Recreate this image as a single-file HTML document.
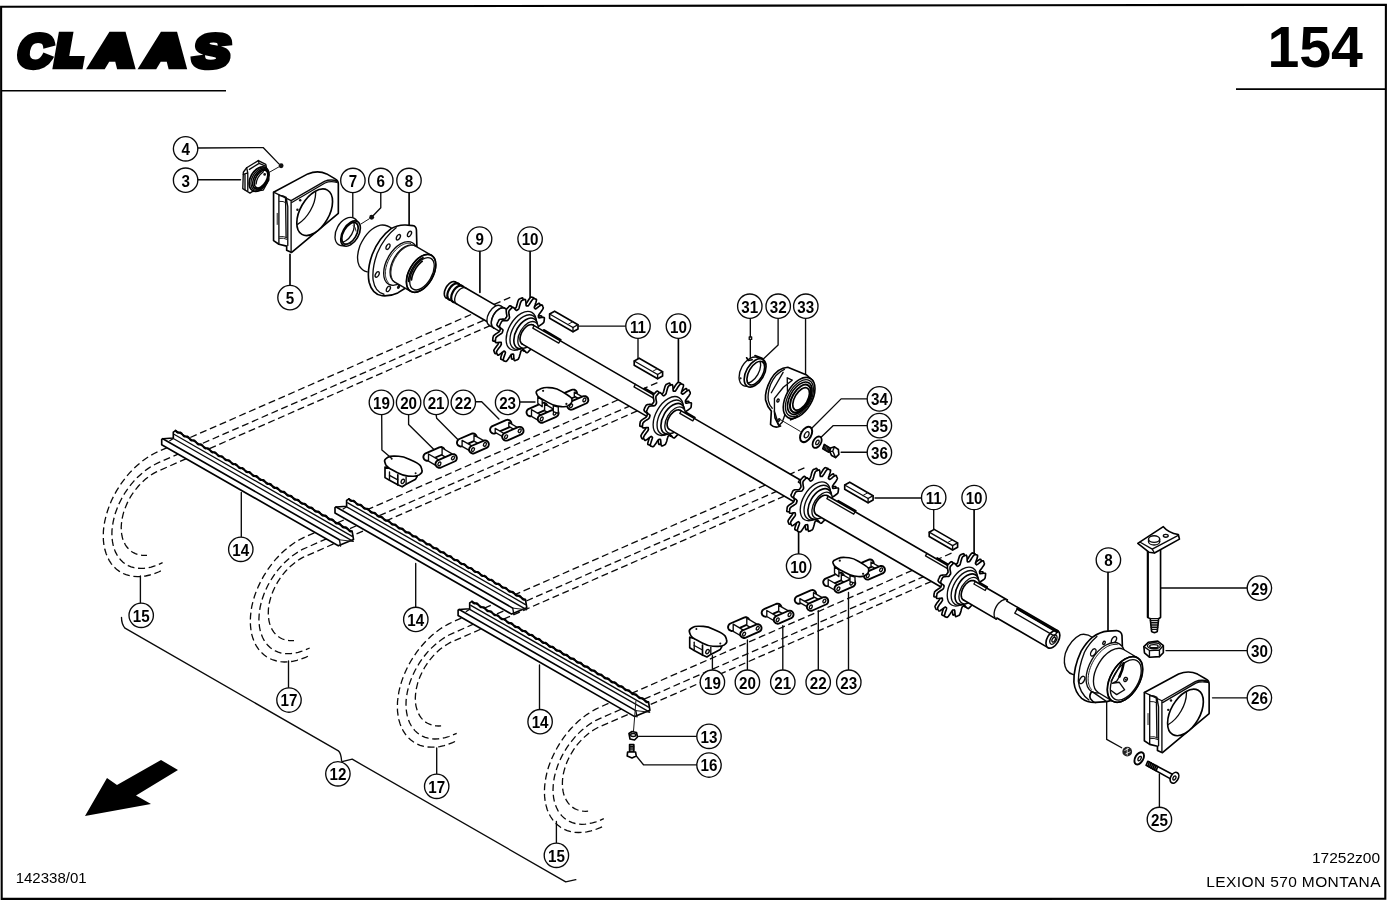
<!DOCTYPE html>
<html lang="en"><head><meta charset="utf-8"><title>CLAAS 154 - LEXION 570 MONTANA</title>
<style>
html,body{margin:0;padding:0;background:#fff;}
body{width:1388px;height:900px;overflow:hidden;position:relative;font-family:"Liberation Sans",sans-serif;}
svg{position:absolute;left:0;top:0;will-change:transform;}
text{font-family:"Liberation Sans",sans-serif;fill:#000;}
.lc{fill:#fff;stroke:#0a0a0a;stroke-width:1.35;}
.lt{font-size:15.2px;font-weight:bold;text-anchor:middle;}
.l,.t,.k,.w,.wk,.d,.g{vector-effect:non-scaling-stroke;}
.l{fill:none;stroke:#0a0a0a;stroke-width:1.35;stroke-linecap:round;stroke-linejoin:round;}
.t{fill:none;stroke:#1a1a1a;stroke-width:1.0;stroke-linecap:round;stroke-linejoin:round;}
.k{fill:none;stroke:#000;stroke-width:1.65;stroke-linecap:round;stroke-linejoin:round;}
.w{fill:#fff;stroke:#0a0a0a;stroke-width:1.35;stroke-linecap:round;stroke-linejoin:round;}
.wk{fill:#fff;stroke:#000;stroke-width:1.65;stroke-linecap:round;stroke-linejoin:round;}
.b{fill:#111;stroke:none;}
.d{fill:none;stroke:#0a0a0a;stroke-width:1.3;stroke-dasharray:7 3.7;}
.logo{font-weight:bold;font-size:42px;stroke:#000;stroke-width:8.5px;stroke-linejoin:miter;stroke-miterlimit:2;}
.pg{font-weight:bold;font-size:57.3px;text-anchor:end;}
.ft{font-size:15.5px;}
</style></head>
<body>
<svg width="1388" height="900" viewBox="0 0 1388 900">
<rect x="0" y="0" width="1388" height="900" fill="#fff"/>
<!-- frame -->
<path d="M1.1,6.8 L1385.9,4.7 L1385.3,898.8 L1.7,898.9 Z" fill="none" stroke="#000" stroke-width="2.1"/>
<path d="M2,90.8 H226" stroke="#000" stroke-width="1.6" fill="none"/>
<path d="M1236,89.2 H1386" stroke="#000" stroke-width="1.7" fill="none"/>
<!-- logo -->
<text class="logo" transform="translate(0,65.35) skewX(-10)"><tspan x="15.7" y="1.45" textLength="34.32" lengthAdjust="spacingAndGlyphs" style="font-size:46px;stroke-width:5.6px">C</tspan><tspan x="54.6" y="0" textLength="25.83" lengthAdjust="spacingAndGlyphs" style="font-size:42px;stroke-width:8.5px">L</tspan><tspan x="93.0" y="0" textLength="37.34" lengthAdjust="spacingAndGlyphs" style="font-size:42px;stroke-width:8.5px">A</tspan><tspan x="144.6" y="0" textLength="37.34" lengthAdjust="spacingAndGlyphs" style="font-size:42px;stroke-width:8.5px">A</tspan><tspan x="191.3" y="1.45" textLength="36.66" lengthAdjust="spacingAndGlyphs" style="font-size:46px;stroke-width:5.6px">S</tspan></text>
<text class="pg" x="1363" y="67.4">154</text>
<text class="ft" x="15.7" y="883.2" style="font-size:15px">142338/01</text>
<text class="ft" x="1380" y="862.6" text-anchor="end">17252z00</text>
<text class="ft" x="1380.9" y="887.2" text-anchor="end" style="letter-spacing:.38px">LEXION 570 MONTANA</text>
<!-- arrow -->
<path d="M85,816 L107,778 L117,785 L161,760 L178,770 L136,795.5 L151,804 Z" fill="#000"/>
<!-- 01_topleft.svg -->
<g transform="translate(230,160) scale(0.111111)">
<!-- leaders 4,3 -->
<path class="l" d="M-290,-108 L298,-112 L440,35"/>
<circle class="b" cx="460" cy="52" r="22"/>
<path class="l" d="M-290,178 L95,178"/>
<path class="t" d="M355,110 L440,62"/>
<!-- part 3 bearing -->
<path class="w" d="M120,110 L150,70 L255,5 L322,40 L332,90 L350,180 L300,270 L200,285 L180,298 L115,258 Z"/>
<path class="l" d="M150,70 L160,115 L120,130 M160,115 L160,275 M135,125 L135,268 M255,5 L262,30 L175,85 M262,30 L320,55"/>
<ellipse class="wk" cx="262" cy="172" rx="118" ry="78" transform="rotate(-60 262 172)"/>
<ellipse class="l" cx="268" cy="172" rx="108" ry="68" transform="rotate(-60 268 172)"/>
<ellipse class="k" cx="274" cy="172" rx="98" ry="58" transform="rotate(-60 274 172)"/>
<ellipse class="wk" cx="280" cy="172" rx="88" ry="48" transform="rotate(-60 280 172)"/>
<path class="l" d="M235,215 Q240,150 300,105"/>
<circle class="b" cx="312" cy="130" r="12"/>
<!-- part 5 housing -->
<path class="wk" d="M392,290 L700,125 Q790,88 870,125 L950,172 Q975,185 975,215 L975,480 L555,832 L510,812 L510,775 L440,758 L392,725 Z"/>
<path class="l" d="M392,290 L550,365 L550,830 M550,365 L850,193 Q900,170 965,188 M560,380 L855,207 Q900,186 962,200"/>
<path class="l" d="M440,312 L440,758 M440,318 Q480,318 505,335 L520,420 L520,770 M500,335 L505,700"/>
<path class="t" d="M445,372 Q480,368 505,385 M445,690 Q480,682 515,700 M445,705 Q480,697 515,715 M425,480 L425,580"/>
<clipPath id="c5"><ellipse cx="762" cy="470" rx="230" ry="130" transform="rotate(-60 762 470)"/></clipPath>
<ellipse class="wk" cx="762" cy="470" rx="230" ry="130" transform="rotate(-60 762 470)"/>
<g clip-path="url(#c5)"><ellipse class="l" cx="610" cy="392" rx="230" ry="130" transform="rotate(-60 610 392)"/></g>
<circle class="b" cx="632" cy="362" r="11"/><circle class="b" cx="607" cy="447" r="11"/>
<!-- leader 5 -->
<path class="k" d="M540,850 L540,1130"/>
<!-- part 7 ring -->
<path class="l" d="M1105,290 L1105,520"/>
<ellipse class="w" cx="1050" cy="645" rx="138" ry="92" transform="rotate(-60 1050 645)"/>
<ellipse class="wk" cx="1085" cy="662" rx="125" ry="72" transform="rotate(-60 1085 662)"/>
<ellipse class="k" cx="1080" cy="660" rx="108" ry="58" transform="rotate(-60 1080 660)"/>
<clipPath id="c7"><ellipse cx="1080" cy="660" rx="108" ry="58" transform="rotate(-60 1080 660)"/></clipPath>
<g clip-path="url(#c7)"><ellipse class="l" cx="1045" cy="640" rx="108" ry="58" transform="rotate(-60 1045 640)"/></g>
<path class="t" d="M1110,590 Q1130,600 1135,640 M1000,740 Q1040,770 1090,750"/>
<!-- leader 6 -->
<path class="l" d="M1357,295 L1357,430 L1290,500"/>
<circle class="b" cx="1275" cy="515" r="22"/>
<path class="t" d="M1180,575 L1255,528"/>
</g>

<!-- 02_hub8.py -->
<g transform="translate(340,210) scale(0.111111)">
<path class="k" d="M622,-158 L622,135"/>
<path class="l" d="M470,170 Q420,128 365,136 Q250,165 180,320 Q140,430 172,500 Q198,545 245,557"/>
<path class="wk" d="M460,168 Q520,132 590,135 L655,140 Q686,146 688,180 L692,335 L640,720 L590,702 L520,746 Q450,778 380,772 Q290,760 262,650 Q240,540 290,400 Q350,250 460,168 Z"/>
<path class="l" d="M505,160 Q395,245 335,390 Q287,520 298,630 Q315,738 395,758"/>
<ellipse class="l" cx="625.0" cy="215.0" rx="27.0" ry="15.0" transform="rotate(-60 625.0 215.0)" />
<ellipse class="l" cx="525.0" cy="245.0" rx="27.0" ry="15.0" transform="rotate(-60 525.0 245.0)" />
<ellipse class="l" cx="432.0" cy="330.0" rx="27.0" ry="15.0" transform="rotate(-60 432.0 330.0)" />
<ellipse class="l" cx="335.0" cy="580.0" rx="27.0" ry="15.0" transform="rotate(-60 335.0 580.0)" />
<ellipse class="l" cx="435.0" cy="710.0" rx="27.0" ry="15.0" transform="rotate(-60 435.0 710.0)" />
<ellipse class="b" cx="528.0" cy="690.0" rx="22.0" ry="13.0" transform="rotate(-60 528.0 690.0)" />
<ellipse class="w" cx="545.0" cy="481.0" rx="215.0" ry="124.1" transform="rotate(-60 545.0 481.0)" />
<path class="t" d="M434.3,650.6 L428.8,644.0 L423.9,636.6 L419.6,628.5 L416.0,619.6 L413.0,610.2 L410.7,600.1 L409.2,589.5 L408.3,578.4 L408.1,566.8 L408.6,554.8 L409.9,542.5 L411.8,529.9 L414.4,517.1 L417.7,504.2 L421.7,491.1 L426.3,478.1 L431.5,465.1 L437.3,452.1 L443.7,439.4 L450.6,426.9 L458.0,414.6 L465.8,402.7 L474.1,391.2 L482.8,380.2 L491.8,369.7 L501.1,359.8 L510.7,350.4 L520.4,341.8 L530.4,333.8 L540.4,326.6 L550.5,320.1 L560.6,314.5 L570.7,309.7 L580.7,305.7 L590.5,302.7 L600.2,300.5 L609.7,299.2 L618.8,298.9 L627.7,299.4 L636.2,300.9" />
<ellipse class="w" cx="583.0" cy="485.0" rx="187.0" ry="108.0" transform="rotate(-60 583.0 485.0)" />
<path d="M676.5,323.1 L823.5,408.1 L636.5,731.9 L489.5,646.9 Z" fill="#fff" stroke="none"/>
<path class="l" d="M676.5,323.1 L823.5,408.1" />
<path class="l" d="M636.5,731.9 L489.5,646.9" />
<ellipse class="w l" cx="730.0" cy="570.0" rx="187.0" ry="108.0" transform="rotate(-60 730.0 570.0)" />
<ellipse class="k" cx="730.0" cy="570.0" rx="187.0" ry="108.0" transform="rotate(-60 730.0 570.0)" />
<ellipse class="l" cx="738.0" cy="574.0" rx="160.0" ry="88.0" transform="rotate(-60 738.0 574.0)" />
<path class="k" d="M616.7,642.5 L616.9,636.7 L617.3,630.9 L617.9,624.9 L618.7,618.8 L619.6,612.7 L620.8,606.5 L622.2,600.2 L623.8,593.8 L625.6,587.5 L627.5,581.1 L629.7,574.7 L632.0,568.3 L634.5,561.9 L637.1,555.5 L640.0,549.1 L643.0,542.8 L646.1,536.5 L649.5,530.3 L652.9,524.2 L656.5,518.1 L660.2,512.2 L664.1,506.3 L668.1,500.6 L672.2,494.9 L676.4,489.4 L680.7,484.1 L685.1,478.9 L689.6,473.8 L694.2,469.0 L698.8,464.3 L703.5,459.8 L708.3,455.5 L713.1,451.3 L717.9,447.4 L722.8,443.7 L727.6,440.3 L732.5,437.0 L737.4,434.0 L742.3,431.2 L747.2,428.7" />
<path class="k" d="M643.7,628.9 L644.2,624.5 L644.9,620.0 L645.6,615.5 L646.5,610.9 L647.5,606.3 L648.6,601.7 L649.9,597.0 L651.2,592.3 L652.7,587.6 L654.2,582.8 L655.9,578.1 L657.7,573.4 L659.6,568.6 L661.6,563.9 L663.7,559.2 L666.0,554.5 L668.3,549.8 L670.7,545.2 L673.1,540.6 L675.7,536.0 L678.4,531.5 L681.1,527.0 L683.9,522.6 L686.8,518.3 L689.8,514.1 L692.8,509.9 L695.9,505.8 L699.1,501.7 L702.3,497.8 L705.5,494.0 L708.9,490.2 L712.2,486.6 L715.6,483.1 L719.0,479.7 L722.5,476.4 L726.0,473.2 L729.5,470.2 L733.0,467.3 L736.6,464.5 L740.1,461.9" />
<path class="t" d="M482.7,639.1 L477.7,633.1 L473.2,626.3 L469.3,618.9 L466.0,610.9 L463.3,602.2 L461.2,593.1 L459.7,583.4 L458.9,573.2 L458.8,562.7 L459.3,551.7 L460.4,540.5 L462.1,529.0 L464.5,517.4 L467.5,505.5 L471.1,493.6 L475.3,481.7 L480.1,469.9 L485.4,458.1 L491.2,446.4 L497.5,435.0 L504.2,423.8 L511.4,413.0 L519.0,402.5 L526.9,392.5 L535.1,382.9 L543.6,373.8 L552.3,365.3 L561.2,357.4 L570.3,350.1 L579.5,343.5 L588.7,337.7 L597.9,332.5 L607.1,328.1 L616.2,324.5 L625.2,321.8 L634.0,319.8 L642.7,318.6 L651.0,318.3 L659.1,318.8 L666.8,320.1" />
</g>
<!-- 03_chain.py -->
<path class="d" d="M510.3,297.3 L158.5,451.4 L154.2,453.5 L149.9,455.9 L145.6,458.7 L141.4,461.8 L137.4,465.2 L133.4,468.9 L129.6,472.9 L126.0,477.1 L122.6,481.6 L119.4,486.2 L116.5,490.9 L113.8,495.8 L111.4,500.8 L109.3,505.9 L107.5,511.0 L106.0,516.1 L104.8,521.1 L103.9,526.2 L103.4,531.1 L103.3,535.9 L103.4,540.5 L103.9,545.0 L104.8,549.3 L106.0,553.3 L107.5,557.1 L109.3,560.6 L111.4,563.8 L113.8,566.7 L116.5,569.3 L119.4,571.4 L122.6,573.3 L126.0,574.7 L129.6,575.7 L133.4,576.4 L137.4,576.7 L141.4,576.5 L145.6,576.0 L149.9,575.0 L154.2,573.7 L158.5,572.0 L161.8,570.5" />
<path class="d" d="M503.3,311.7 L158.5,462.7 L154.8,464.5 L151.2,466.5 L147.6,468.9 L144.1,471.5 L140.7,474.4 L137.3,477.5 L134.1,480.9 L131.1,484.4 L128.2,488.2 L125.5,492.0 L123.0,496.1 L120.8,500.2 L118.7,504.4 L117.0,508.7 L115.4,513.0 L114.2,517.3 L113.2,521.6 L112.5,525.8 L112.0,530.0 L111.9,534.0 L112.0,537.9 L112.5,541.7 L113.2,545.3 L114.2,548.7 L115.4,551.9 L117.0,554.9 L118.7,557.6 L120.8,560.0 L123.0,562.2 L125.5,564.0 L128.2,565.6 L131.1,566.8 L134.1,567.7 L137.3,568.2 L140.7,568.4 L144.1,568.3 L147.6,567.9 L151.2,567.1 L154.8,565.9 L158.5,564.5 L162.6,562.7" />
<path class="d" d="M490.3,325.6 L158.5,470.9 L155.9,472.1 L153.2,473.6 L150.7,475.2 L148.1,477.1 L145.6,479.1 L143.2,481.2 L140.8,483.5 L138.5,486.0 L136.4,488.6 L134.3,491.2 L132.3,494.0 L130.5,496.9 L128.9,499.9 L127.3,502.9 L126.0,506.0 L124.8,509.0 L123.7,512.1 L122.9,515.2 L122.2,518.3 L121.7,521.4 L121.4,524.3 L121.2,527.3 L121.3,530.1 L121.5,532.9 L121.9,535.5 L122.5,538.1 L123.3,540.5 L124.3,542.7 L125.4,544.8 L126.7,546.8 L128.2,548.5 L129.8,550.1 L131.5,551.5 L133.4,552.7 L135.4,553.7 L137.5,554.4 L139.8,555.0 L142.1,555.3 L144.5,555.4 L147.0,555.3" />
<path class="d" d="M657.4,382.6 L305.6,536.7 L301.2,538.8 L296.9,541.2 L292.7,544.0 L288.5,547.1 L284.4,550.5 L280.5,554.2 L276.7,558.2 L273.1,562.4 L269.7,566.8 L266.5,571.5 L263.6,576.2 L260.9,581.1 L258.5,586.1 L256.3,591.2 L254.5,596.3 L253.0,601.4 L251.8,606.4 L251.0,611.4 L250.5,616.4 L250.3,621.2 L250.5,625.8 L251.0,630.3 L251.8,634.6 L253.0,638.6 L254.5,642.4 L256.3,645.9 L258.5,649.1 L260.9,652.0 L263.6,654.5 L266.5,656.7 L269.7,658.5 L273.1,660.0 L276.7,661.0 L280.5,661.7 L284.4,662.0 L288.5,661.8 L292.7,661.3 L296.9,660.3 L301.2,659.0 L305.6,657.3 L308.9,655.8" />
<path class="d" d="M650.4,397.0 L305.6,548.0 L301.9,549.7 L298.3,551.8 L294.7,554.2 L291.1,556.8 L287.7,559.7 L284.4,562.8 L281.2,566.2 L278.2,569.7 L275.3,573.4 L272.6,577.3 L270.1,581.4 L267.8,585.5 L265.8,589.7 L264.0,594.0 L262.5,598.3 L261.2,602.6 L260.2,606.9 L259.5,611.1 L259.1,615.2 L258.9,619.3 L259.1,623.2 L259.5,627.0 L260.2,630.6 L261.2,634.0 L262.5,637.2 L264.0,640.2 L265.8,642.9 L267.8,645.3 L270.1,647.5 L272.6,649.3 L275.3,650.9 L278.2,652.1 L281.2,653.0 L284.4,653.5 L287.7,653.7 L291.1,653.6 L294.7,653.1 L298.3,652.4 L301.9,651.2 L305.6,649.8 L309.7,648.0" />
<path class="d" d="M637.4,410.9 L305.6,556.2 L302.9,557.4 L300.3,558.9 L297.7,560.5 L295.2,562.4 L292.7,564.4 L290.2,566.5 L287.9,568.8 L285.6,571.3 L283.4,573.8 L281.3,576.5 L279.4,579.3 L277.6,582.2 L275.9,585.2 L274.4,588.2 L273.0,591.2 L271.8,594.3 L270.8,597.4 L269.9,600.5 L269.2,603.6 L268.7,606.6 L268.4,609.6 L268.3,612.6 L268.3,615.4 L268.6,618.2 L269.0,620.8 L269.6,623.4 L270.4,625.8 L271.3,628.0 L272.5,630.1 L273.8,632.1 L275.2,633.8 L276.8,635.4 L278.6,636.8 L280.5,638.0 L282.5,639.0 L284.6,639.7 L286.8,640.3 L289.2,640.6 L291.6,640.7 L294.0,640.6" />
<path class="d" d="M804.4,467.9 L452.6,622.0 L448.3,624.1 L444.0,626.5 L439.7,629.3 L435.5,632.4 L431.5,635.8 L427.5,639.5 L423.8,643.5 L420.1,647.7 L416.7,652.1 L413.6,656.7 L410.6,661.5 L407.9,666.4 L405.5,671.4 L403.4,676.5 L401.6,681.6 L400.1,686.7 L398.9,691.7 L398.1,696.7 L397.5,701.7 L397.4,706.5 L397.5,711.1 L398.1,715.6 L398.9,719.9 L400.1,723.9 L401.6,727.7 L403.4,731.2 L405.5,734.4 L407.9,737.3 L410.6,739.8 L413.6,742.0 L416.7,743.8 L420.1,745.3 L423.8,746.3 L427.5,747.0 L431.5,747.2 L435.5,747.1 L439.7,746.6 L444.0,745.6 L448.3,744.3 L452.6,742.6 L455.9,741.1" />
<path class="d" d="M797.4,482.3 L452.6,633.3 L449.0,635.0 L445.3,637.1 L441.7,639.5 L438.2,642.1 L434.8,645.0 L431.4,648.1 L428.2,651.4 L425.2,655.0 L422.3,658.7 L419.6,662.6 L417.2,666.6 L414.9,670.8 L412.9,675.0 L411.1,679.3 L409.5,683.6 L408.3,687.9 L407.3,692.2 L406.6,696.4 L406.1,700.5 L406.0,704.6 L406.1,708.5 L406.6,712.3 L407.3,715.9 L408.3,719.3 L409.5,722.5 L411.1,725.5 L412.9,728.2 L414.9,730.6 L417.2,732.8 L419.6,734.6 L422.3,736.1 L425.2,737.4 L428.2,738.2 L431.4,738.8 L434.8,739.0 L438.2,738.9 L441.7,738.4 L445.3,737.6 L449.0,736.5 L452.6,735.1 L456.7,733.3" />
<path class="d" d="M784.4,496.1 L452.6,641.5 L450.0,642.7 L447.4,644.2 L444.8,645.8 L442.2,647.6 L439.7,649.6 L437.3,651.8 L434.9,654.1 L432.6,656.6 L430.5,659.1 L428.4,661.8 L426.5,664.6 L424.6,667.5 L423.0,670.5 L421.5,673.5 L420.1,676.5 L418.9,679.6 L417.8,682.7 L417.0,685.8 L416.3,688.9 L415.8,691.9 L415.5,694.9 L415.3,697.9 L415.4,700.7 L415.6,703.5 L416.0,706.1 L416.7,708.7 L417.4,711.1 L418.4,713.3 L419.5,715.4 L420.8,717.4 L422.3,719.1 L423.9,720.7 L425.6,722.1 L427.5,723.3 L429.5,724.2 L431.7,725.0 L433.9,725.6 L436.2,725.9 L438.6,726.0 L441.1,725.9" />
<path class="d" d="M951.5,553.2 L599.7,707.3 L595.3,709.4 L591.0,711.8 L586.8,714.6 L582.6,717.7 L578.5,721.1 L574.6,724.8 L570.8,728.8 L567.2,733.0 L563.8,737.4 L560.6,742.0 L557.7,746.8 L555.0,751.7 L552.6,756.7 L550.5,761.7 L548.6,766.8 L547.1,771.9 L546.0,777.0 L545.1,782.0 L544.6,787.0 L544.4,791.8 L544.6,796.4 L545.1,800.9 L546.0,805.2 L547.1,809.2 L548.6,813.0 L550.5,816.5 L552.6,819.7 L555.0,822.6 L557.7,825.1 L560.6,827.3 L563.8,829.1 L567.2,830.6 L570.8,831.6 L574.6,832.3 L578.5,832.5 L582.6,832.4 L586.8,831.9 L591.0,830.9 L595.3,829.6 L599.7,827.9 L603.0,826.4" />
<path class="d" d="M944.5,567.5 L599.7,718.6 L596.0,720.3 L592.4,722.4 L588.8,724.7 L585.3,727.4 L581.8,730.3 L578.5,733.4 L575.3,736.7 L572.3,740.3 L569.4,744.0 L566.7,747.9 L564.2,751.9 L561.9,756.1 L559.9,760.3 L558.1,764.6 L556.6,768.9 L555.3,773.2 L554.3,777.4 L553.6,781.7 L553.2,785.8 L553.0,789.9 L553.2,793.8 L553.6,797.6 L554.3,801.2 L555.3,804.6 L556.6,807.8 L558.1,810.8 L559.9,813.5 L561.9,815.9 L564.2,818.1 L566.7,819.9 L569.4,821.4 L572.3,822.7 L575.3,823.5 L578.5,824.1 L581.8,824.3 L585.3,824.2 L588.8,823.7 L592.4,822.9 L596.0,821.8 L599.7,820.4 L603.8,818.6" />
<path class="d" d="M931.5,581.4 L599.7,726.8 L597.0,728.0 L594.4,729.5 L591.8,731.1 L589.3,732.9 L586.8,734.9 L584.3,737.1 L582.0,739.4 L579.7,741.9 L577.5,744.4 L575.5,747.1 L573.5,749.9 L571.7,752.8 L570.0,755.8 L568.5,758.8 L567.1,761.8 L565.9,764.9 L564.9,768.0 L564.0,771.1 L563.3,774.2 L562.8,777.2 L562.5,780.2 L562.4,783.2 L562.4,786.0 L562.7,788.8 L563.1,791.4 L563.7,794.0 L564.5,796.4 L565.5,798.6 L566.6,800.7 L567.9,802.7 L569.3,804.4 L570.9,806.0 L572.7,807.4 L574.6,808.6 L576.6,809.5 L578.7,810.3 L580.9,810.9 L583.3,811.2 L585.7,811.3 L588.1,811.2" />
<path class="l" d="M140.4,576 V603.5 M288.5,661 V688.5 M436.7,748 V774 M556.4,821.5 V843.5"/>
<path class="l" d="M121.5,617.5 Q121.5,624 125,628.2 L338.4,750.9 Q341,753 341.6,761 M342.1,761.7 L352.2,759.2 L565.7,881.8 L575.8,879.7"/>
<path class="wk" d="M175.6,430.6 L352.2,531.7 L353.5,539.4 L338.3,545.8 L161.7,444.7 L161.7,439.4 L162.8,438.7 L173.3,438.0 L173.3,432.1 Z" />
<path class="k" style="stroke-width:1.9" d="M175.6,430.6 L176.3,431.5 L177.0,432.3 L177.7,432.7 L178.4,432.7 L179.1,432.6 L179.8,432.4 L180.5,432.5 L181.2,433.0 L181.9,433.7 L182.6,434.7 L183.3,435.6 L184.0,436.3 L184.7,436.6 L185.4,436.6 L186.1,436.5 L186.8,436.4 L187.5,436.5 L188.2,437.0 L188.9,437.8 L189.6,438.8 L190.3,439.7 L191.0,440.3 L191.7,440.6 L192.4,440.6 L193.1,440.4 L193.8,440.3 L194.5,440.5 L195.2,441.1 L195.9,441.9 L196.6,442.9 L197.3,443.7 L198.0,444.3 L198.7,444.6 L199.4,444.5 L200.1,444.3 L200.8,444.3 L201.5,444.5 L202.2,445.1 L202.9,446.0 L203.6,447.0 L204.3,447.8 L205.0,448.3 L205.7,448.5 L206.4,448.4 L207.1,448.3 L207.8,448.3 L208.5,448.5 L209.2,449.2 L209.9,450.1 L210.6,451.0 L211.3,451.8 L212.0,452.3 L212.7,452.5 L213.4,452.4 L214.1,452.2 L214.8,452.2 L215.5,452.6 L216.2,453.2 L216.9,454.2 L217.6,455.1 L218.3,455.9 L219.0,456.3 L219.7,456.4 L220.4,456.3 L221.1,456.1 L221.8,456.2 L222.5,456.6 L223.2,457.3 L223.9,458.3 L224.6,459.2 L225.3,459.9 L226.0,460.3 L226.7,460.4 L227.4,460.2 L228.1,460.1 L228.8,460.2 L229.5,460.6 L230.2,461.4 L230.9,462.3 L231.6,463.3 L232.3,463.9 L233.0,464.3 L233.7,464.3 L234.4,464.1 L235.1,464.0 L235.8,464.2 L236.5,464.7 L237.2,465.5 L237.9,466.4 L238.6,467.3 L239.3,468.0 L240.0,468.2 L240.7,468.2 L241.4,468.1 L242.1,468.0 L242.8,468.2 L243.5,468.7 L244.2,469.6 L244.9,470.5 L245.6,471.4 L246.3,472.0 L247.0,472.2 L247.7,472.2 L248.4,472.0 L249.1,471.9 L249.8,472.2 L250.5,472.8 L251.2,473.6 L251.9,474.6 L252.6,475.4 L253.3,476.0 L254.0,476.2 L254.7,476.1 L255.4,475.9 L256.1,475.9 L256.8,476.2 L257.5,476.8 L258.2,477.7 L258.9,478.7 L259.6,479.5 L260.3,480.0 L261.0,480.1 L261.7,480.0 L262.4,479.9 L263.1,479.9 L263.8,480.2 L264.5,480.9 L265.2,481.8 L265.9,482.8 L266.6,483.5 L267.3,484.0 L268.0,484.1 L268.7,483.9 L269.4,483.8 L270.1,483.9 L270.8,484.2 L271.5,485.0 L272.2,485.9 L272.9,486.8 L273.6,487.6 L274.3,488.0 L275.0,488.0 L275.7,487.9 L276.4,487.7 L277.1,487.8 L277.8,488.3 L278.5,489.0 L279.2,490.0 L279.9,490.9 L280.6,491.6 L281.3,491.9 L282.0,491.9 L282.7,491.8 L283.4,491.7 L284.1,491.8 L284.8,492.3 L285.5,493.1 L286.2,494.1 L286.9,495.0 L287.6,495.6 L288.3,495.9 L289.0,495.9 L289.7,495.7 L290.4,495.6 L291.1,495.8 L291.8,496.4 L292.5,497.2 L293.2,498.2 L293.9,499.0 L294.6,499.6 L295.3,499.9 L296.0,499.8 L296.7,499.6 L297.4,499.6 L298.1,499.8 L298.8,500.4 L299.5,501.3 L300.2,502.3 L300.9,503.1 L301.6,503.6 L302.3,503.8 L303.0,503.7 L303.7,503.6 L304.4,503.6 L305.1,503.8 L305.8,504.5 L306.5,505.4 L307.2,506.3 L307.9,507.1 L308.6,507.6 L309.3,507.8 L310.0,507.7 L310.7,507.5 L311.4,507.5 L312.1,507.9 L312.8,508.5 L313.5,509.5 L314.2,510.4 L314.9,511.2 L315.6,511.6 L316.3,511.7 L317.0,511.6 L317.7,511.5 L318.4,511.5 L319.1,511.9 L319.8,512.6 L320.5,513.6 L321.2,514.5 L321.9,515.2 L322.6,515.6 L323.3,515.7 L324.0,515.5 L324.7,515.4 L325.4,515.5 L326.1,515.9 L326.8,516.7 L327.5,517.6 L328.2,518.6 L328.9,519.2 L329.6,519.6 L330.3,519.6 L331.0,519.4 L331.7,519.3 L332.4,519.5 L333.1,520.0 L333.8,520.8 L334.5,521.7 L335.2,522.6 L335.9,523.3 L336.6,523.6 L337.3,523.5 L338.0,523.4 L338.7,523.3 L339.4,523.5 L340.1,524.0 L340.8,524.9 L341.5,525.8 L342.2,526.7 L342.9,527.3 L343.6,527.5 L344.3,527.5 L345.0,527.3 L345.7,527.2 L346.4,527.5 L347.1,528.1 L347.8,528.9 L348.5,529.9 L349.2,530.7 L349.9,531.3 L350.6,531.5 L351.3,531.4 L352.0,531.2" />
<path class="l" d="M174.4,434.5 L352.2,536.3" />
<path class="l" d="M173.3,438.5 L353.2,541.4" />
<path class="k" d="M162.8,438.7 L339.4,539.8" />
<path class="l" d="M173.3,438.5 L169.8,440.7" />
<path class="l" d="M339.4,539.8 L340.6,546.0" />
<path class="t" d="M339.4,539.8 L352.7,541.4" />
<path class="wk" d="M348.9,498.9 L525.5,600.0 L526.8,607.7 L511.6,614.1 L335.0,513.0 L335.0,507.7 L336.1,507.0 L346.6,506.3 L346.6,500.4 Z" />
<path class="k" style="stroke-width:1.9" d="M348.9,498.9 L349.6,499.8 L350.3,500.6 L351.0,501.0 L351.7,501.0 L352.4,500.9 L353.1,500.7 L353.8,500.8 L354.5,501.3 L355.2,502.0 L355.9,503.0 L356.6,503.9 L357.3,504.6 L358.0,504.9 L358.7,504.9 L359.4,504.8 L360.1,504.7 L360.8,504.8 L361.5,505.3 L362.2,506.1 L362.9,507.1 L363.6,508.0 L364.3,508.6 L365.0,508.9 L365.7,508.9 L366.4,508.7 L367.1,508.6 L367.8,508.8 L368.5,509.4 L369.2,510.2 L369.9,511.2 L370.6,512.0 L371.3,512.6 L372.0,512.9 L372.7,512.8 L373.4,512.6 L374.1,512.6 L374.8,512.8 L375.5,513.4 L376.2,514.3 L376.9,515.3 L377.6,516.1 L378.3,516.6 L379.0,516.8 L379.7,516.7 L380.4,516.6 L381.1,516.6 L381.8,516.8 L382.5,517.5 L383.2,518.4 L383.9,519.3 L384.6,520.1 L385.3,520.6 L386.0,520.8 L386.7,520.7 L387.4,520.5 L388.1,520.5 L388.8,520.9 L389.5,521.5 L390.2,522.5 L390.9,523.4 L391.6,524.2 L392.3,524.6 L393.0,524.7 L393.7,524.6 L394.4,524.4 L395.1,524.5 L395.8,524.9 L396.5,525.6 L397.2,526.6 L397.9,527.5 L398.6,528.2 L399.3,528.6 L400.0,528.7 L400.7,528.5 L401.4,528.4 L402.1,528.5 L402.8,528.9 L403.5,529.7 L404.2,530.6 L404.9,531.6 L405.6,532.2 L406.3,532.6 L407.0,532.6 L407.7,532.4 L408.4,532.3 L409.1,532.5 L409.8,533.0 L410.5,533.8 L411.2,534.7 L411.9,535.6 L412.6,536.3 L413.3,536.5 L414.0,536.5 L414.7,536.4 L415.4,536.3 L416.1,536.5 L416.8,537.0 L417.5,537.9 L418.2,538.8 L418.9,539.7 L419.6,540.3 L420.3,540.5 L421.0,540.5 L421.7,540.3 L422.4,540.2 L423.1,540.5 L423.8,541.1 L424.5,541.9 L425.2,542.9 L425.9,543.7 L426.6,544.3 L427.3,544.5 L428.0,544.4 L428.7,544.2 L429.4,544.2 L430.1,544.5 L430.8,545.1 L431.5,546.0 L432.2,547.0 L432.9,547.8 L433.6,548.3 L434.3,548.4 L435.0,548.3 L435.7,548.2 L436.4,548.2 L437.1,548.5 L437.8,549.2 L438.5,550.1 L439.2,551.1 L439.9,551.8 L440.6,552.3 L441.3,552.4 L442.0,552.2 L442.7,552.1 L443.4,552.2 L444.1,552.5 L444.8,553.3 L445.5,554.2 L446.2,555.1 L446.9,555.9 L447.6,556.3 L448.3,556.3 L449.0,556.2 L449.7,556.0 L450.4,556.1 L451.1,556.6 L451.8,557.3 L452.5,558.3 L453.2,559.2 L453.9,559.9 L454.6,560.2 L455.3,560.2 L456.0,560.1 L456.7,560.0 L457.4,560.1 L458.1,560.6 L458.8,561.4 L459.5,562.4 L460.2,563.3 L460.9,563.9 L461.6,564.2 L462.3,564.2 L463.0,564.0 L463.7,563.9 L464.4,564.1 L465.1,564.7 L465.8,565.5 L466.5,566.5 L467.2,567.3 L467.9,567.9 L468.6,568.2 L469.3,568.1 L470.0,567.9 L470.7,567.9 L471.4,568.1 L472.1,568.7 L472.8,569.6 L473.5,570.6 L474.2,571.4 L474.9,571.9 L475.6,572.1 L476.3,572.0 L477.0,571.9 L477.7,571.9 L478.4,572.1 L479.1,572.8 L479.8,573.7 L480.5,574.6 L481.2,575.4 L481.9,575.9 L482.6,576.1 L483.3,576.0 L484.0,575.8 L484.7,575.8 L485.4,576.2 L486.1,576.8 L486.8,577.8 L487.5,578.7 L488.2,579.5 L488.9,579.9 L489.6,580.0 L490.3,579.9 L491.0,579.8 L491.7,579.8 L492.4,580.2 L493.1,580.9 L493.8,581.9 L494.5,582.8 L495.2,583.5 L495.9,583.9 L496.6,584.0 L497.3,583.8 L498.0,583.7 L498.7,583.8 L499.4,584.2 L500.1,585.0 L500.8,585.9 L501.5,586.9 L502.2,587.5 L502.9,587.9 L503.6,587.9 L504.3,587.7 L505.0,587.6 L505.7,587.8 L506.4,588.3 L507.1,589.1 L507.8,590.0 L508.5,590.9 L509.2,591.6 L509.9,591.9 L510.6,591.8 L511.3,591.7 L512.0,591.6 L512.7,591.8 L513.4,592.3 L514.1,593.2 L514.8,594.1 L515.5,595.0 L516.2,595.6 L516.9,595.8 L517.6,595.8 L518.3,595.6 L519.0,595.5 L519.7,595.8 L520.4,596.4 L521.1,597.2 L521.8,598.2 L522.5,599.0 L523.2,599.6 L523.9,599.8 L524.6,599.7 L525.3,599.5" />
<path class="l" d="M347.7,502.8 L525.5,604.6" />
<path class="l" d="M346.6,506.8 L526.5,609.7" />
<path class="k" d="M336.1,507.0 L512.7,608.1" />
<path class="l" d="M346.6,506.8 L343.1,509.0" />
<path class="l" d="M512.7,608.1 L513.9,614.3" />
<path class="t" d="M512.7,608.1 L526.0,609.7" />
<path class="wk" d="M472.0,601.4 L648.6,702.5 L649.9,710.2 L634.7,716.6 L458.1,615.5 L458.1,610.2 L459.2,609.5 L469.7,608.8 L469.7,602.9 Z" />
<path class="k" style="stroke-width:1.9" d="M472.0,601.4 L472.7,602.3 L473.4,603.1 L474.1,603.5 L474.8,603.5 L475.5,603.4 L476.2,603.2 L476.9,603.3 L477.6,603.8 L478.3,604.5 L479.0,605.5 L479.7,606.4 L480.4,607.1 L481.1,607.4 L481.8,607.4 L482.5,607.3 L483.2,607.2 L483.9,607.3 L484.6,607.8 L485.3,608.6 L486.0,609.6 L486.7,610.5 L487.4,611.1 L488.1,611.4 L488.8,611.4 L489.5,611.2 L490.2,611.1 L490.9,611.3 L491.6,611.9 L492.3,612.7 L493.0,613.7 L493.7,614.5 L494.4,615.1 L495.1,615.4 L495.8,615.3 L496.5,615.1 L497.2,615.1 L497.9,615.3 L498.6,615.9 L499.3,616.8 L500.0,617.8 L500.7,618.6 L501.4,619.1 L502.1,619.3 L502.8,619.2 L503.5,619.1 L504.2,619.1 L504.9,619.3 L505.6,620.0 L506.3,620.9 L507.0,621.8 L507.7,622.6 L508.4,623.1 L509.1,623.3 L509.8,623.2 L510.5,623.0 L511.2,623.0 L511.9,623.4 L512.6,624.0 L513.3,625.0 L514.0,625.9 L514.7,626.7 L515.4,627.1 L516.1,627.2 L516.8,627.1 L517.5,626.9 L518.2,627.0 L518.9,627.4 L519.6,628.1 L520.3,629.1 L521.0,630.0 L521.7,630.7 L522.4,631.1 L523.1,631.2 L523.8,631.0 L524.5,630.9 L525.2,631.0 L525.9,631.4 L526.6,632.2 L527.3,633.1 L528.0,634.1 L528.7,634.7 L529.4,635.1 L530.1,635.1 L530.8,634.9 L531.5,634.8 L532.2,635.0 L532.9,635.5 L533.6,636.3 L534.3,637.2 L535.0,638.1 L535.7,638.8 L536.4,639.0 L537.1,639.0 L537.8,638.9 L538.5,638.8 L539.2,639.0 L539.9,639.5 L540.6,640.4 L541.3,641.3 L542.0,642.2 L542.7,642.8 L543.4,643.0 L544.1,643.0 L544.8,642.8 L545.5,642.7 L546.2,643.0 L546.9,643.6 L547.6,644.4 L548.3,645.4 L549.0,646.2 L549.7,646.8 L550.4,647.0 L551.1,646.9 L551.8,646.7 L552.5,646.7 L553.2,647.0 L553.9,647.6 L554.6,648.5 L555.3,649.5 L556.0,650.3 L556.7,650.8 L557.4,650.9 L558.1,650.8 L558.8,650.7 L559.5,650.7 L560.2,651.0 L560.9,651.7 L561.6,652.6 L562.3,653.6 L563.0,654.3 L563.7,654.8 L564.4,654.9 L565.1,654.7 L565.8,654.6 L566.5,654.7 L567.2,655.0 L567.9,655.8 L568.6,656.7 L569.3,657.6 L570.0,658.4 L570.7,658.8 L571.4,658.8 L572.1,658.7 L572.8,658.5 L573.5,658.6 L574.2,659.1 L574.9,659.8 L575.6,660.8 L576.3,661.7 L577.0,662.4 L577.7,662.7 L578.4,662.7 L579.1,662.6 L579.8,662.5 L580.5,662.6 L581.2,663.1 L581.9,663.9 L582.6,664.9 L583.3,665.8 L584.0,666.4 L584.7,666.7 L585.4,666.7 L586.1,666.5 L586.8,666.4 L587.5,666.6 L588.2,667.2 L588.9,668.0 L589.6,669.0 L590.3,669.8 L591.0,670.4 L591.7,670.7 L592.4,670.6 L593.1,670.4 L593.8,670.4 L594.5,670.6 L595.2,671.2 L595.9,672.1 L596.6,673.1 L597.3,673.9 L598.0,674.4 L598.7,674.6 L599.4,674.5 L600.1,674.4 L600.8,674.4 L601.5,674.6 L602.2,675.3 L602.9,676.2 L603.6,677.1 L604.3,677.9 L605.0,678.4 L605.7,678.6 L606.4,678.5 L607.1,678.3 L607.8,678.3 L608.5,678.7 L609.2,679.3 L609.9,680.3 L610.6,681.2 L611.3,682.0 L612.0,682.4 L612.7,682.5 L613.4,682.4 L614.1,682.3 L614.8,682.3 L615.5,682.7 L616.2,683.4 L616.9,684.4 L617.6,685.3 L618.3,686.0 L619.0,686.4 L619.7,686.5 L620.4,686.3 L621.1,686.2 L621.8,686.3 L622.5,686.7 L623.2,687.5 L623.9,688.4 L624.6,689.4 L625.3,690.0 L626.0,690.4 L626.7,690.4 L627.4,690.2 L628.1,690.1 L628.8,690.3 L629.5,690.8 L630.2,691.6 L630.9,692.5 L631.6,693.4 L632.3,694.1 L633.0,694.4 L633.7,694.3 L634.4,694.2 L635.1,694.1 L635.8,694.3 L636.5,694.8 L637.2,695.7 L637.9,696.6 L638.6,697.5 L639.3,698.1 L640.0,698.3 L640.7,698.3 L641.4,698.1 L642.1,698.0 L642.8,698.3 L643.5,698.9 L644.2,699.7 L644.9,700.7 L645.6,701.5 L646.3,702.1 L647.0,702.3 L647.7,702.2 L648.4,702.0" />
<path class="l" d="M470.8,605.3 L648.6,707.1" />
<path class="l" d="M469.7,609.3 L649.6,712.2" />
<path class="k" d="M459.2,609.5 L635.8,710.6" />
<path class="l" d="M469.7,609.3 L466.2,611.5" />
<path class="l" d="M635.8,710.6 L637.0,716.8" />
<path class="t" d="M635.8,710.6 L649.1,712.2" />
<path class="l" d="M241.3,492.5 V536.5 M415.7,563.5 V607.5 M539.5,665 V709.5"/>
<!-- 04_shaft.py -->
<path class="k" d="M479.9,251 V292.5 M530.1,251 V298 M678.4,338.5 V382 M974.1,509.5 V553.5 M798.6,531 V554.5"/>
<path class="l" d="M638,338.5 V359.5 M578.8,326.1 H626.2 M933.7,509.5 V531 M875,498 H921.6"/>
<path d="M455.4,282.0 L500.4,308.1 L491.2,324.0 L446.2,297.9 Z" fill="#fff" stroke="none"/><path class="k" d="M455.4,282.0 L500.4,308.1" /><path class="k" d="M491.2,324.0 L446.2,297.9" />
<path class="k" style="stroke-width:2.2" d="M449.7,299.9 L448.9,299.4 L448.3,298.8 L447.8,298.0 L447.5,296.9 L447.3,295.8 L447.4,294.5 L447.6,293.2 L448.0,291.8 L448.6,290.4 L449.3,289.1 L450.1,287.8 L451.0,286.6 L452.0,285.6 L453.1,284.7 L454.2,284.1 L455.2,283.6 L456.3,283.4 L457.2,283.4 L458.1,283.6 L458.9,284.0" />
<path class="k" style="stroke-width:2.2" d="M453.5,302.1 L452.8,301.7 L452.2,301.1 L451.7,300.2 L451.4,299.2 L451.2,298.0 L451.3,296.8 L451.5,295.4 L451.9,294.1 L452.5,292.7 L453.2,291.3 L454.0,290.0 L454.9,288.9 L455.9,287.8 L457.0,287.0 L458.0,286.3 L459.1,285.9 L460.1,285.6 L461.1,285.6 L462.0,285.8 L462.7,286.3" />
<path class="l" d="M457.0,304.1 L456.2,303.7 L455.6,303.1 L455.1,302.2 L454.8,301.2 L454.7,300.1 L454.7,298.8 L455.0,297.4 L455.4,296.1 L455.9,294.7 L456.6,293.3 L457.4,292.0 L458.4,290.9 L459.4,289.8 L460.4,289.0 L461.5,288.3 L462.6,287.9 L463.6,287.6 L464.6,287.6 L465.4,287.8 L466.2,288.3" />
<path class="k" d="M446.2,297.9 L445.7,297.5 L445.2,297.0 L444.8,296.3 L444.5,295.5 L444.4,294.7 L444.3,293.7 L444.4,292.7 L444.5,291.6 L444.8,290.6 L445.2,289.5 L445.7,288.4 L446.2,287.3 L446.9,286.3 L447.6,285.3 L448.4,284.5 L449.2,283.7 L450.0,283.0 L450.8,282.5 L451.7,282.0 L452.5,281.7 L453.3,281.6 L454.1,281.6 L454.8,281.7 L455.4,282.0" />
<ellipse class="w" cx="494.9" cy="315.6" rx="11.3" ry="6.5" transform="rotate(-59.88626684901756 494.9 315.6)" />
<path d="M500.6,305.8 L504.9,308.3 L493.6,327.8 L489.3,325.3 Z" fill="#fff" stroke="none"/>
<path class="l" d="M500.6,305.8 L504.9,308.3" />
<path class="l" d="M493.6,327.8 L489.3,325.3" />
<ellipse class="w l" cx="499.3" cy="318.1" rx="11.3" ry="6.5" transform="rotate(-59.88626684901756 499.3 318.1)" />
<path d="M504.9,308.3 L522.2,318.3 L510.9,337.9 L493.6,327.8 Z" fill="#fff" stroke="none"/><path class="l" d="M504.9,308.3 L522.2,318.3" /><path class="l" d="M510.9,337.9 L493.6,327.8" />
<path class="l" d="M494.1,328.1 L493.2,327.6 L492.4,326.8 L491.8,325.7 L491.4,324.5 L491.3,323.1 L491.3,321.5 L491.6,319.9 L492.1,318.2 L492.8,316.4 L493.6,314.8 L494.6,313.2 L495.8,311.8 L497.0,310.5 L498.3,309.5 L499.6,308.6 L501.0,308.1 L502.2,307.8 L503.4,307.8 L504.5,308.1 L505.4,308.6" />
<path class="wk" d="M533.4,300.7 L532.9,302.1 L532.5,303.5 L532.0,304.7 L531.8,305.7 L531.7,306.3 L531.9,306.5 L532.1,306.7 L532.3,306.9 L532.5,307.1 L532.7,307.3 L532.9,307.4 L533.4,307.2 L534.1,306.7 L535.1,306.0 L536.1,305.1 L537.2,304.3 L538.2,303.7 L538.9,303.3 L539.4,303.3 L539.6,303.7 L539.8,304.0 L540.0,304.4 L540.1,304.7 L540.3,305.1 L540.4,305.5 L540.6,305.9 L540.7,306.3 L540.5,307.0 L540.0,307.9 L539.3,309.1 L538.4,310.3 L537.5,311.5 L536.7,312.6 L536.1,313.5 L535.8,314.1 L535.8,314.5 L535.8,314.8 L535.9,315.2 L535.9,315.5 L535.9,315.9 L536.0,316.2 L536.4,316.3 L537.1,316.3 L538.0,316.2 L539.0,316.0 L540.0,315.9 L540.9,315.9 L541.5,316.0 L541.8,316.4 L541.8,316.9 L541.7,317.4 L541.7,317.9 L541.6,318.4 L541.6,319.0 L541.5,319.5 L541.4,320.0 L541.3,320.6 L540.9,321.2 L540.2,321.9 L539.2,322.7 L538.1,323.4 L537.1,324.1 L536.1,324.7 L535.4,325.3 L534.9,325.8 L534.8,326.2 L534.6,326.6 L534.5,327.0 L534.4,327.4 L534.2,327.9 L534.1,328.3 L534.3,328.7 L534.7,329.2 L535.4,329.7 L536.1,330.2 L536.7,330.8 L537.3,331.4 L537.6,332.0 L537.6,332.6 L537.4,333.2 L537.1,333.7 L536.9,334.3 L536.6,334.8 L536.4,335.4 L536.1,335.9 L535.8,336.4 L535.5,337.0 L535.0,337.4 L534.2,337.7 L533.3,337.8 L532.3,337.9 L531.4,337.9 L530.5,337.9 L529.8,337.9 L529.3,338.2 L529.0,338.5 L528.8,338.9 L528.5,339.3 L528.2,339.7 L528.0,340.0 L527.7,340.4 L527.7,341.0 L527.7,341.9 L527.9,342.9 L528.1,344.0 L528.2,345.1 L528.3,346.2 L528.2,347.1 L528.0,347.8 L527.6,348.3 L527.2,348.7 L526.8,349.1 L526.4,349.5 L526.0,349.9 L525.6,350.4 L525.2,350.7 L524.8,351.1 L524.3,351.2 L523.7,351.0 L523.1,350.5 L522.5,349.8 L521.9,349.1 L521.3,348.5 L520.9,348.1 L520.5,348.0 L520.1,348.2 L519.8,348.4 L519.5,348.7 L519.2,348.9 L518.8,349.1 L518.5,349.4 L518.2,350.0 L517.9,351.0 L517.6,352.2 L517.2,353.6 L516.8,355.0 L516.4,356.2 L515.9,357.2 L515.5,357.8 L515.1,358.0 L514.6,358.2 L514.2,358.4 L513.8,358.6 L513.3,358.8 L512.9,358.9 L512.5,359.1 L512.1,359.2 L511.7,358.9 L511.5,358.2 L511.3,357.2 L511.2,356.1 L511.2,354.8 L511.1,353.8 L511.0,353.0 L510.8,352.6 L510.5,352.6 L510.2,352.6 L509.9,352.6 L509.6,352.6 L509.3,352.7 L509.0,352.7 L508.5,353.2 L507.9,354.0 L507.2,355.2 L506.3,356.5 L505.5,357.7 L504.7,358.8 L504.0,359.6 L503.5,359.9 L503.1,359.9 L502.7,359.8 L502.4,359.7 L502.0,359.6 L501.7,359.5 L501.4,359.4 L501.1,359.2 L500.8,359.1 L500.7,358.5 L500.8,357.6 L501.1,356.3 L501.6,354.9 L502.1,353.5 L502.5,352.3 L502.8,351.3 L502.8,350.7 L502.7,350.5 L502.5,350.3 L502.3,350.1 L502.1,349.9 L501.9,349.7 L501.6,349.6 L501.2,349.8 L500.4,350.3 L499.5,351.0 L498.4,351.9 L497.3,352.7 L496.4,353.3 L495.6,353.7 L495.1,353.7 L494.9,353.3 L494.7,353.0 L494.6,352.6 L494.4,352.3 L494.2,351.9 L494.1,351.5 L494.0,351.1 L493.8,350.7 L494.0,350.0 L494.5,349.1 L495.3,347.9 L496.2,346.7 L497.1,345.5 L497.9,344.4 L498.4,343.5 L498.7,342.9 L498.7,342.5 L498.7,342.2 L498.6,341.8 L498.6,341.5 L498.6,341.1 L498.5,340.8 L498.1,340.7 L497.4,340.7 L496.5,340.8 L495.5,341.0 L494.5,341.1 L493.6,341.1 L493.0,341.0 L492.7,340.6 L492.7,340.1 L492.8,339.6 L492.8,339.1 L492.9,338.6 L492.9,338.0 L493.0,337.5 L493.1,337.0 L493.2,336.4 L493.6,335.8 L494.3,335.1 L495.3,334.3 L496.4,333.6 L497.5,332.9 L498.4,332.3 L499.2,331.7 L499.6,331.2 L499.8,330.8 L499.9,330.4 L500.0,330.0 L500.1,329.6 L500.3,329.1 L500.4,328.7 L500.2,328.3 L499.8,327.8 L499.2,327.3 L498.5,326.8 L497.8,326.2 L497.3,325.6 L496.9,325.0 L496.9,324.4 L497.1,323.8 L497.4,323.3 L497.6,322.7 L497.9,322.2 L498.2,321.6 L498.4,321.1 L498.7,320.5 L499.0,320.0 L499.6,319.6 L500.3,319.3 L501.2,319.2 L502.2,319.1 L503.2,319.1 L504.0,319.1 L504.7,319.0 L505.2,318.8 L505.5,318.5 L505.8,318.1 L506.0,317.7 L506.3,317.3 L506.5,317.0 L506.8,316.6 L506.9,316.0 L506.8,315.1 L506.6,314.1 L506.4,313.0 L506.3,311.9 L506.2,310.8 L506.3,309.9 L506.5,309.2 L506.9,308.7 L507.3,308.3 L507.7,307.9 L508.1,307.5 L508.5,307.1 L508.9,306.6 L509.3,306.2 L509.7,305.9 L510.2,305.8 L510.8,306.0 L511.4,306.5 L512.1,307.2 L512.7,307.9 L513.2,308.5 L513.7,308.9 L514.0,309.0 L514.4,308.8 L514.7,308.6 L515.0,308.3 L515.3,308.1 L515.7,307.9 L516.0,307.6 L516.3,307.0 L516.6,306.0 L517.0,304.8 L517.3,303.4 L517.7,302.0 L518.1,300.8 L518.6,299.8 L519.0,299.2 L519.5,299.0 L519.9,298.8 L520.3,298.6 L520.8,298.4 L521.2,298.2 L521.6,298.1 L522.0,297.9 L522.4,297.8 L522.8,298.1 L523.0,298.8 L523.2,299.8 L523.3,300.9 L523.4,302.2 L523.4,303.2 L523.5,304.0 L523.7,304.4 L524.0,304.4 L524.3,304.4 L524.6,304.4 L524.9,304.3 L525.2,304.3 L525.5,304.3 L526.0,303.8 L526.6,303.0 L527.4,301.8 L528.2,300.5 L529.0,299.3 L529.8,298.2 L530.5,297.4 L531.1,297.1 L531.4,297.1 L531.8,297.2 L532.1,297.3 L532.5,297.4 L532.8,297.5 L533.1,297.6 L533.5,297.8 L533.8,297.9 L533.9,298.5 L533.7,299.4 Z" />
<path class="wk" d="M536.0,302.2 L535.5,303.6 L535.1,305.0 L534.6,306.2 L534.3,307.2 L534.3,307.8 L534.5,308.0 L534.7,308.2 L534.9,308.4 L535.1,308.6 L535.2,308.8 L535.5,308.9 L535.9,308.7 L536.7,308.2 L537.6,307.5 L538.7,306.6 L539.8,305.8 L540.8,305.2 L541.5,304.9 L542.0,304.8 L542.2,305.2 L542.4,305.5 L542.6,305.9 L542.7,306.2 L542.9,306.6 L543.0,307.0 L543.2,307.4 L543.3,307.8 L543.1,308.5 L542.6,309.4 L541.9,310.6 L541.0,311.8 L540.1,313.0 L539.3,314.1 L538.7,315.0 L538.4,315.6 L538.4,316.0 L538.4,316.3 L538.5,316.7 L538.5,317.0 L538.5,317.4 L538.6,317.7 L539.0,317.8 L539.7,317.8 L540.6,317.7 L541.6,317.5 L542.6,317.4 L543.5,317.4 L544.1,317.5 L544.4,317.9 L544.4,318.4 L544.3,318.9 L544.3,319.4 L544.2,319.9 L544.2,320.5 L544.1,321.0 L544.0,321.5 L543.9,322.1 L543.5,322.7 L542.8,323.4 L541.8,324.2 L540.7,324.9 L539.7,325.6 L538.7,326.2 L538.0,326.8 L537.5,327.3 L537.3,327.7 L537.2,328.1 L537.1,328.5 L537.0,329.0 L536.8,329.4 L536.7,329.8 L536.9,330.2 L537.3,330.7 L538.0,331.2 L538.7,331.7 L539.3,332.3 L539.9,332.9 L540.2,333.5 L540.2,334.1 L540.0,334.7 L539.7,335.2 L539.5,335.8 L539.2,336.3 L539.0,336.9 L538.7,337.4 L538.4,338.0 L538.1,338.5 L537.6,338.9 L536.8,339.2 L535.9,339.3 L534.9,339.4 L534.0,339.4 L533.1,339.4 L532.4,339.5 L531.9,339.7 L531.6,340.0 L531.4,340.4 L531.1,340.8 L530.8,341.2 L530.6,341.5 L530.3,341.9 L530.2,342.5 L530.3,343.4 L530.5,344.4 L530.7,345.5 L530.8,346.6 L530.9,347.7 L530.8,348.6 L530.6,349.3 L530.2,349.8 L529.8,350.2 L529.4,350.6 L529.0,351.0 L528.6,351.5 L528.2,351.9 L527.8,352.3 L527.4,352.6 L526.9,352.7 L526.3,352.5 L525.7,352.0 L525.1,351.3 L524.5,350.6 L523.9,350.0 L523.5,349.6 L523.1,349.5 L522.7,349.7 L522.4,349.9 L522.1,350.2 L521.8,350.4 L521.4,350.6 L521.1,350.9 L520.8,351.5 L520.5,352.5 L520.2,353.7 L519.8,355.1 L519.4,356.5 L519.0,357.7 L518.5,358.7 L518.1,359.3 L517.6,359.5 L517.2,359.7 L516.8,359.9 L516.4,360.1 L515.9,360.3 L515.5,360.4 L515.1,360.6 L514.7,360.7 L514.3,360.4 L514.1,359.7 L513.9,358.7 L513.8,357.6 L513.7,356.3 L513.7,355.3 L513.6,354.5 L513.4,354.1 L513.1,354.1 L512.8,354.1 L512.5,354.1 L512.2,354.2 L511.9,354.2 L511.6,354.2 L511.1,354.7 L510.5,355.5 L509.8,356.7 L508.9,358.0 L508.1,359.2 L507.3,360.3 L506.6,361.1 L506.0,361.4 L505.7,361.4 L505.3,361.3 L505.0,361.2 L504.6,361.1 L504.3,361.0 L504.0,360.9 L503.7,360.7 L503.3,360.6 L503.3,360.0 L503.4,359.1 L503.7,357.8 L504.2,356.4 L504.7,355.0 L505.1,353.8 L505.4,352.8 L505.4,352.2 L505.3,352.0 L505.0,351.8 L504.9,351.6 L504.7,351.4 L504.5,351.2 L504.2,351.1 L503.8,351.3 L503.0,351.8 L502.1,352.5 L501.0,353.4 L499.9,354.2 L499.0,354.8 L498.2,355.2 L497.7,355.2 L497.5,354.8 L497.3,354.5 L497.2,354.1 L497.0,353.8 L496.8,353.4 L496.7,353.0 L496.6,352.6 L496.4,352.2 L496.6,351.5 L497.1,350.6 L497.9,349.4 L498.7,348.2 L499.7,347.0 L500.5,345.9 L501.0,345.0 L501.3,344.4 L501.3,344.0 L501.3,343.7 L501.2,343.3 L501.2,343.0 L501.2,342.6 L501.1,342.3 L500.7,342.2 L500.0,342.2 L499.1,342.3 L498.1,342.5 L497.1,342.6 L496.2,342.6 L495.6,342.5 L495.3,342.1 L495.3,341.6 L495.4,341.1 L495.4,340.6 L495.5,340.1 L495.5,339.5 L495.6,339.0 L495.7,338.5 L495.8,337.9 L496.2,337.3 L496.9,336.6 L497.9,335.8 L499.0,335.1 L500.1,334.4 L501.0,333.8 L501.8,333.2 L502.2,332.7 L502.4,332.3 L502.5,331.9 L502.6,331.5 L502.7,331.1 L502.9,330.6 L503.0,330.2 L502.8,329.8 L502.4,329.3 L501.8,328.8 L501.1,328.3 L500.4,327.7 L499.8,327.1 L499.5,326.5 L499.5,325.9 L499.7,325.3 L500.0,324.8 L500.2,324.2 L500.5,323.7 L500.8,323.1 L501.0,322.6 L501.3,322.1 L501.6,321.5 L502.1,321.1 L502.9,320.8 L503.8,320.7 L504.8,320.6 L505.8,320.6 L506.6,320.6 L507.3,320.6 L507.8,320.3 L508.1,320.0 L508.3,319.6 L508.6,319.2 L508.9,318.8 L509.1,318.5 L509.4,318.1 L509.5,317.5 L509.4,316.7 L509.2,315.6 L509.0,314.5 L508.9,313.4 L508.8,312.3 L508.9,311.4 L509.1,310.7 L509.5,310.2 L509.9,309.8 L510.3,309.4 L510.7,309.0 L511.1,308.6 L511.5,308.2 L511.9,307.8 L512.3,307.4 L512.8,307.3 L513.4,307.5 L514.0,308.0 L514.7,308.7 L515.2,309.4 L515.8,310.0 L516.3,310.4 L516.6,310.5 L517.0,310.3 L517.3,310.1 L517.6,309.8 L517.9,309.6 L518.3,309.4 L518.6,309.1 L518.9,308.5 L519.2,307.5 L519.5,306.3 L519.9,304.9 L520.3,303.5 L520.7,302.3 L521.2,301.3 L521.6,300.7 L522.1,300.5 L522.5,300.3 L522.9,300.1 L523.3,299.9 L523.8,299.7 L524.2,299.6 L524.6,299.4 L525.0,299.3 L525.4,299.6 L525.6,300.3 L525.8,301.3 L525.9,302.4 L526.0,303.7 L526.0,304.7 L526.1,305.5 L526.3,305.9 L526.6,305.9 L526.9,305.9 L527.2,305.9 L527.5,305.9 L527.8,305.8 L528.1,305.8 L528.6,305.3 L529.2,304.5 L530.0,303.3 L530.8,302.0 L531.6,300.8 L532.4,299.7 L533.1,298.9 L533.7,298.6 L534.0,298.6 L534.4,298.7 L534.7,298.8 L535.1,298.9 L535.4,299.0 L535.7,299.1 L536.1,299.3 L536.4,299.5 L536.5,300.0 L536.3,300.9 Z" />
<ellipse class="w" cx="521.2" cy="330.8" rx="21.3" ry="12.3" transform="rotate(-59.88626684901756 521.2 330.8)" />
<ellipse class="w" cx="523.4" cy="332.1" rx="19.0" ry="11.0" transform="rotate(-59.88626684901756 523.4 332.1)" />
<ellipse class="wk" cx="525.7" cy="333.4" rx="16.8" ry="9.7" transform="rotate(-59.88626684901756 525.7 333.4)" />
<ellipse class="w" cx="528.1" cy="334.8" rx="14.5" ry="8.4" transform="rotate(-59.88626684901756 528.1 334.8)" />
<path d="M533.3,325.1 L669.1,403.9 L658.1,422.9 L522.3,344.1 Z" fill="#fff" stroke="none"/><path class="k" d="M533.3,325.1 L669.1,403.9" /><path class="k" d="M658.1,422.9 L522.3,344.1" />
<path class="k" d="M522.3,344.1 L521.5,343.5 L520.9,342.7 L520.4,341.7 L520.1,340.4 L520.0,339.1 L520.1,337.6 L520.4,336.1 L520.9,334.5 L521.5,333.0 L522.3,331.4 L523.3,330.0 L524.3,328.6 L525.4,327.5 L526.6,326.4 L527.8,325.6 L529.1,325.0 L530.2,324.7 L531.4,324.6 L532.4,324.7 L533.3,325.1" />
<path class="l" d="M534.2,325.6 L532.8,328.1 L558.7,343.1 L560.5,340.1" />
<path class="k" style="stroke-width:1.9" d="M543.8,329.9 L560.7,339.7" />
<path class="l" d="M635.4,384.3 L634.0,386.8 L659.1,401.3 L660.8,398.3" />
<path class="k" style="stroke-width:1.9" d="M644.7,388.4 L661.0,397.9" />
<path class="wk" d="M680.4,386.0 L680.0,387.4 L679.5,388.8 L679.1,390.0 L678.8,391.0 L678.8,391.6 L678.9,391.8 L679.1,392.0 L679.3,392.2 L679.5,392.3 L679.7,392.5 L679.9,392.7 L680.4,392.5 L681.2,392.0 L682.1,391.3 L683.2,390.4 L684.2,389.6 L685.2,389.0 L686.0,388.6 L686.5,388.6 L686.7,388.9 L686.8,389.3 L687.0,389.7 L687.2,390.0 L687.3,390.4 L687.5,390.8 L687.6,391.1 L687.7,391.6 L687.6,392.3 L687.1,393.2 L686.3,394.4 L685.4,395.6 L684.5,396.8 L683.7,397.9 L683.1,398.8 L682.8,399.4 L682.8,399.8 L682.9,400.1 L682.9,400.4 L683.0,400.8 L683.0,401.2 L683.1,401.5 L683.4,401.6 L684.1,401.6 L685.0,401.5 L686.1,401.3 L687.1,401.2 L687.9,401.2 L688.6,401.3 L688.9,401.7 L688.8,402.2 L688.8,402.7 L688.8,403.2 L688.7,403.7 L688.6,404.2 L688.6,404.8 L688.5,405.3 L688.4,405.9 L688.0,406.5 L687.2,407.2 L686.3,407.9 L685.2,408.7 L684.1,409.4 L683.2,410.0 L682.4,410.6 L682.0,411.0 L681.8,411.5 L681.7,411.9 L681.6,412.3 L681.4,412.7 L681.3,413.2 L681.2,413.6 L681.4,414.0 L681.8,414.5 L682.4,415.0 L683.1,415.5 L683.8,416.1 L684.3,416.7 L684.6,417.3 L684.7,417.9 L684.5,418.5 L684.2,419.0 L683.9,419.6 L683.7,420.1 L683.4,420.7 L683.1,421.2 L682.9,421.7 L682.6,422.3 L682.0,422.7 L681.3,423.0 L680.4,423.1 L679.4,423.1 L678.4,423.1 L677.5,423.2 L676.8,423.2 L676.4,423.5 L676.1,423.8 L675.8,424.2 L675.6,424.6 L675.3,425.0 L675.0,425.3 L674.8,425.7 L674.7,426.3 L674.8,427.1 L674.9,428.1 L675.1,429.3 L675.3,430.4 L675.4,431.5 L675.3,432.4 L675.0,433.1 L674.7,433.6 L674.3,434.0 L673.9,434.4 L673.5,434.8 L673.1,435.2 L672.7,435.6 L672.3,436.0 L671.9,436.4 L671.4,436.5 L670.8,436.3 L670.1,435.8 L669.5,435.1 L668.9,434.4 L668.4,433.8 L667.9,433.4 L667.5,433.3 L667.2,433.5 L666.9,433.7 L666.6,433.9 L666.2,434.2 L665.9,434.4 L665.6,434.7 L665.3,435.3 L665.0,436.2 L664.6,437.5 L664.3,438.9 L663.9,440.3 L663.4,441.5 L663.0,442.5 L662.5,443.1 L662.1,443.3 L661.7,443.5 L661.3,443.7 L660.8,443.9 L660.4,444.1 L660.0,444.2 L659.6,444.4 L659.1,444.5 L658.8,444.2 L658.5,443.5 L658.4,442.5 L658.3,441.3 L658.2,440.1 L658.1,439.1 L658.0,438.3 L657.8,437.9 L657.6,437.9 L657.2,437.9 L656.9,437.9 L656.6,437.9 L656.3,438.0 L656.0,438.0 L655.6,438.5 L655.0,439.3 L654.2,440.5 L653.4,441.8 L652.5,443.0 L651.7,444.1 L651.0,444.9 L650.5,445.2 L650.1,445.2 L649.8,445.1 L649.4,445.0 L649.1,444.9 L648.8,444.8 L648.4,444.7 L648.1,444.5 L647.8,444.3 L647.7,443.8 L647.9,442.8 L648.2,441.6 L648.6,440.2 L649.1,438.8 L649.5,437.6 L649.8,436.6 L649.9,436.0 L649.7,435.8 L649.5,435.6 L649.3,435.4 L649.1,435.2 L648.9,435.0 L648.7,434.9 L648.2,435.1 L647.5,435.6 L646.5,436.3 L645.5,437.2 L644.4,438.0 L643.4,438.6 L642.7,438.9 L642.2,438.9 L642.0,438.6 L641.8,438.3 L641.6,437.9 L641.5,437.6 L641.3,437.2 L641.2,436.8 L641.0,436.4 L640.9,436.0 L641.1,435.3 L641.6,434.4 L642.3,433.2 L643.2,432.0 L644.1,430.8 L644.9,429.7 L645.5,428.8 L645.8,428.2 L645.8,427.8 L645.7,427.5 L645.7,427.1 L645.7,426.8 L645.6,426.4 L645.6,426.1 L645.2,425.9 L644.5,426.0 L643.6,426.1 L642.6,426.3 L641.6,426.4 L640.7,426.4 L640.1,426.3 L639.8,425.9 L639.8,425.4 L639.8,424.9 L639.9,424.4 L639.9,423.9 L640.0,423.3 L640.1,422.8 L640.2,422.3 L640.3,421.7 L640.7,421.1 L641.4,420.4 L642.4,419.6 L643.4,418.9 L644.5,418.2 L645.5,417.6 L646.2,417.0 L646.7,416.5 L646.8,416.1 L646.9,415.7 L647.1,415.3 L647.2,414.8 L647.3,414.4 L647.4,414.0 L647.3,413.6 L646.8,413.1 L646.2,412.6 L645.5,412.1 L644.8,411.5 L644.3,410.9 L644.0,410.2 L644.0,409.6 L644.2,409.1 L644.4,408.5 L644.7,408.0 L644.9,407.5 L645.2,406.9 L645.5,406.4 L645.8,405.8 L646.1,405.3 L646.6,404.9 L647.4,404.6 L648.3,404.5 L649.3,404.4 L650.2,404.4 L651.1,404.4 L651.8,404.3 L652.3,404.1 L652.6,403.8 L652.8,403.4 L653.1,403.0 L653.3,402.6 L653.6,402.3 L653.8,401.9 L653.9,401.3 L653.9,400.4 L653.7,399.4 L653.5,398.3 L653.3,397.2 L653.3,396.1 L653.4,395.2 L653.6,394.5 L654.0,394.0 L654.4,393.6 L654.8,393.2 L655.2,392.8 L655.6,392.3 L656.0,391.9 L656.4,391.5 L656.8,391.2 L657.3,391.1 L657.9,391.3 L658.5,391.8 L659.1,392.5 L659.7,393.2 L660.2,393.8 L660.7,394.2 L661.1,394.3 L661.4,394.1 L661.8,393.9 L662.1,393.6 L662.4,393.4 L662.7,393.2 L663.1,392.9 L663.4,392.3 L663.7,391.3 L664.0,390.1 L664.4,388.7 L664.8,387.3 L665.2,386.1 L665.7,385.1 L666.1,384.5 L666.5,384.3 L667.0,384.1 L667.4,383.9 L667.8,383.7 L668.2,383.5 L668.7,383.4 L669.1,383.2 L669.5,383.1 L669.8,383.4 L670.1,384.0 L670.3,385.0 L670.4,386.2 L670.4,387.4 L670.5,388.5 L670.6,389.3 L670.8,389.7 L671.1,389.7 L671.4,389.7 L671.7,389.7 L672.0,389.6 L672.3,389.6 L672.6,389.6 L673.1,389.1 L673.7,388.2 L674.4,387.1 L675.2,385.8 L676.1,384.6 L676.9,383.5 L677.6,382.7 L678.1,382.4 L678.5,382.4 L678.8,382.5 L679.2,382.6 L679.5,382.7 L679.9,382.8 L680.2,382.9 L680.5,383.1 L680.8,383.2 L680.9,383.8 L680.8,384.7 Z" />
<path class="wk" d="M683.0,387.5 L682.6,388.9 L682.1,390.3 L681.7,391.5 L681.4,392.5 L681.3,393.1 L681.5,393.3 L681.7,393.5 L681.9,393.7 L682.1,393.9 L682.3,394.1 L682.5,394.2 L683.0,394.0 L683.8,393.5 L684.7,392.8 L685.8,391.9 L686.8,391.1 L687.8,390.5 L688.6,390.1 L689.0,390.1 L689.3,390.5 L689.4,390.8 L689.6,391.2 L689.8,391.5 L689.9,391.9 L690.1,392.3 L690.2,392.7 L690.3,393.1 L690.1,393.8 L689.6,394.7 L688.9,395.9 L688.0,397.1 L687.1,398.3 L686.3,399.4 L685.7,400.3 L685.4,400.9 L685.4,401.3 L685.5,401.6 L685.5,402.0 L685.6,402.3 L685.6,402.7 L685.7,403.0 L686.0,403.1 L686.7,403.1 L687.6,403.0 L688.7,402.8 L689.7,402.7 L690.5,402.7 L691.2,402.8 L691.4,403.2 L691.4,403.7 L691.4,404.2 L691.3,404.7 L691.3,405.2 L691.2,405.8 L691.2,406.3 L691.1,406.8 L691.0,407.4 L690.6,408.0 L689.8,408.7 L688.9,409.4 L687.8,410.2 L686.7,410.9 L685.8,411.5 L685.0,412.1 L684.6,412.6 L684.4,413.0 L684.3,413.4 L684.2,413.8 L684.0,414.2 L683.9,414.7 L683.8,415.1 L684.0,415.5 L684.4,416.0 L685.0,416.5 L685.7,417.0 L686.4,417.6 L686.9,418.2 L687.2,418.8 L687.3,419.4 L687.0,420.0 L686.8,420.5 L686.5,421.1 L686.3,421.6 L686.0,422.2 L685.7,422.7 L685.5,423.2 L685.2,423.8 L684.6,424.2 L683.9,424.5 L683.0,424.6 L682.0,424.7 L681.0,424.7 L680.1,424.7 L679.4,424.7 L679.0,425.0 L678.7,425.3 L678.4,425.7 L678.2,426.1 L677.9,426.5 L677.6,426.8 L677.4,427.2 L677.3,427.8 L677.4,428.6 L677.5,429.6 L677.7,430.8 L677.9,431.9 L678.0,433.0 L677.9,433.9 L677.6,434.6 L677.3,435.1 L676.9,435.5 L676.5,435.9 L676.1,436.3 L675.7,436.7 L675.3,437.1 L674.9,437.5 L674.5,437.9 L673.9,438.0 L673.4,437.8 L672.7,437.3 L672.1,436.6 L671.5,435.9 L671.0,435.3 L670.5,434.9 L670.1,434.8 L669.8,435.0 L669.5,435.2 L669.1,435.5 L668.8,435.7 L668.5,435.9 L668.2,436.2 L667.9,436.8 L667.6,437.8 L667.2,439.0 L666.9,440.4 L666.5,441.8 L666.0,443.0 L665.6,444.0 L665.1,444.6 L664.7,444.8 L664.3,445.0 L663.8,445.2 L663.4,445.4 L663.0,445.6 L662.6,445.7 L662.2,445.9 L661.7,446.0 L661.4,445.7 L661.1,445.0 L661.0,444.0 L660.9,442.9 L660.8,441.6 L660.7,440.6 L660.6,439.8 L660.4,439.4 L660.1,439.4 L659.8,439.4 L659.5,439.4 L659.2,439.4 L658.9,439.5 L658.6,439.5 L658.2,440.0 L657.6,440.8 L656.8,442.0 L656.0,443.3 L655.1,444.5 L654.3,445.6 L653.6,446.4 L653.1,446.7 L652.7,446.7 L652.4,446.6 L652.0,446.5 L651.7,446.4 L651.4,446.3 L651.0,446.2 L650.7,446.0 L650.4,445.8 L650.3,445.3 L650.4,444.3 L650.8,443.1 L651.2,441.7 L651.7,440.3 L652.1,439.1 L652.4,438.1 L652.5,437.5 L652.3,437.3 L652.1,437.1 L651.9,436.9 L651.7,436.7 L651.5,436.5 L651.3,436.4 L650.8,436.6 L650.1,437.1 L649.1,437.8 L648.1,438.7 L647.0,439.5 L646.0,440.1 L645.3,440.4 L644.8,440.4 L644.6,440.1 L644.4,439.8 L644.2,439.4 L644.1,439.1 L643.9,438.7 L643.7,438.3 L643.6,437.9 L643.5,437.5 L643.7,436.8 L644.2,435.9 L644.9,434.7 L645.8,433.5 L646.7,432.3 L647.5,431.2 L648.1,430.3 L648.4,429.7 L648.4,429.3 L648.3,429.0 L648.3,428.6 L648.3,428.3 L648.2,427.9 L648.2,427.6 L647.8,427.5 L647.1,427.5 L646.2,427.6 L645.2,427.8 L644.2,427.9 L643.3,427.9 L642.7,427.8 L642.4,427.4 L642.4,426.9 L642.4,426.4 L642.5,425.9 L642.5,425.4 L642.6,424.8 L642.7,424.3 L642.7,423.8 L642.9,423.2 L643.3,422.6 L644.0,421.9 L644.9,421.1 L646.0,420.4 L647.1,419.7 L648.1,419.1 L648.8,418.5 L649.3,418.0 L649.4,417.6 L649.5,417.2 L649.7,416.8 L649.8,416.3 L649.9,415.9 L650.0,415.5 L649.9,415.1 L649.4,414.6 L648.8,414.1 L648.1,413.6 L647.4,413.0 L646.9,412.4 L646.6,411.8 L646.6,411.2 L646.8,410.6 L647.0,410.1 L647.3,409.5 L647.5,409.0 L647.8,408.4 L648.1,407.9 L648.4,407.3 L648.7,406.8 L649.2,406.4 L650.0,406.1 L650.9,406.0 L651.8,405.9 L652.8,405.9 L653.7,405.9 L654.4,405.8 L654.9,405.6 L655.1,405.3 L655.4,404.9 L655.7,404.5 L655.9,404.1 L656.2,403.8 L656.4,403.4 L656.5,402.8 L656.5,401.9 L656.3,400.9 L656.1,399.8 L655.9,398.7 L655.9,397.6 L655.9,396.7 L656.2,396.0 L656.6,395.5 L657.0,395.1 L657.3,394.7 L657.7,394.3 L658.1,393.8 L658.5,393.4 L659.0,393.0 L659.4,392.7 L659.9,392.6 L660.5,392.8 L661.1,393.3 L661.7,394.0 L662.3,394.7 L662.8,395.3 L663.3,395.7 L663.7,395.8 L664.0,395.6 L664.4,395.4 L664.7,395.1 L665.0,394.9 L665.3,394.7 L665.6,394.4 L666.0,393.8 L666.3,392.8 L666.6,391.6 L667.0,390.2 L667.4,388.8 L667.8,387.6 L668.2,386.6 L668.7,386.0 L669.1,385.8 L669.6,385.6 L670.0,385.4 L670.4,385.2 L670.8,385.0 L671.3,384.9 L671.7,384.7 L672.1,384.6 L672.4,384.9 L672.7,385.6 L672.9,386.6 L673.0,387.7 L673.0,388.9 L673.1,390.0 L673.2,390.8 L673.4,391.2 L673.7,391.2 L674.0,391.2 L674.3,391.2 L674.6,391.1 L674.9,391.1 L675.2,391.1 L675.7,390.6 L676.3,389.8 L677.0,388.6 L677.8,387.3 L678.7,386.1 L679.5,385.0 L680.2,384.2 L680.7,383.9 L681.1,383.9 L681.4,384.0 L681.8,384.1 L682.1,384.2 L682.5,384.3 L682.8,384.4 L683.1,384.6 L683.4,384.7 L683.5,385.3 L683.4,386.2 Z" />
<ellipse class="w" cx="668.2" cy="416.0" rx="21.3" ry="12.3" transform="rotate(-59.88626684901756 668.2 416.0)" />
<ellipse class="w" cx="670.5" cy="417.4" rx="19.0" ry="11.0" transform="rotate(-59.88626684901756 670.5 417.4)" />
<ellipse class="wk" cx="672.8" cy="418.7" rx="16.8" ry="9.7" transform="rotate(-59.88626684901756 672.8 418.7)" />
<ellipse class="w" cx="675.1" cy="420.1" rx="14.5" ry="8.4" transform="rotate(-59.88626684901756 675.1 420.1)" />
<path d="M680.4,410.4 L816.2,489.2 L805.2,508.2 L669.4,429.4 Z" fill="#fff" stroke="none"/><path class="k" d="M680.4,410.4 L816.2,489.2" /><path class="k" d="M805.2,508.2 L669.4,429.4" />
<path class="k" d="M669.4,429.4 L668.6,428.8 L667.9,428.0 L667.5,426.9 L667.2,425.7 L667.1,424.4 L667.2,422.9 L667.5,421.4 L667.9,419.8 L668.6,418.3 L669.4,416.7 L670.3,415.3 L671.4,413.9 L672.5,412.8 L673.7,411.7 L674.9,410.9 L676.1,410.3 L677.3,410.0 L678.4,409.9 L679.5,410.0 L680.4,410.4" />
<path class="l" d="M681.3,410.9 L679.8,413.4 L692.8,420.9 L694.6,417.9" />
<path class="k" style="stroke-width:1.9" d="M686.3,412.6 L694.8,417.5" />
<path class="l" d="M799.8,479.6 L798.3,482.1 L806.1,486.6 L807.9,483.6" />
<path class="k" style="stroke-width:1.9" d="M803.0,480.3 L808.1,483.2" />
<path class="wk" d="M827.5,471.3 L827.1,472.7 L826.6,474.1 L826.1,475.3 L825.9,476.3 L825.8,476.9 L826.0,477.1 L826.2,477.3 L826.4,477.4 L826.6,477.6 L826.8,477.8 L827.0,478.0 L827.5,477.8 L828.2,477.3 L829.2,476.6 L830.2,475.7 L831.3,474.9 L832.3,474.3 L833.0,473.9 L833.5,473.9 L833.7,474.2 L833.9,474.6 L834.1,474.9 L834.2,475.3 L834.4,475.7 L834.5,476.1 L834.7,476.4 L834.8,476.9 L834.6,477.5 L834.1,478.5 L833.4,479.6 L832.5,480.9 L831.6,482.1 L830.8,483.2 L830.2,484.1 L829.9,484.7 L829.9,485.0 L830.0,485.4 L830.0,485.7 L830.0,486.1 L830.1,486.5 L830.1,486.8 L830.5,486.9 L831.2,486.9 L832.1,486.7 L833.1,486.6 L834.1,486.5 L835.0,486.5 L835.6,486.6 L835.9,487.0 L835.9,487.4 L835.9,488.0 L835.8,488.5 L835.8,489.0 L835.7,489.5 L835.6,490.1 L835.5,490.6 L835.4,491.1 L835.0,491.8 L834.3,492.5 L833.3,493.2 L832.3,494.0 L831.2,494.7 L830.2,495.3 L829.5,495.9 L829.0,496.3 L828.9,496.8 L828.7,497.2 L828.6,497.6 L828.5,498.0 L828.3,498.5 L828.2,498.9 L828.4,499.3 L828.9,499.8 L829.5,500.2 L830.2,500.8 L830.8,501.4 L831.4,502.0 L831.7,502.6 L831.7,503.2 L831.5,503.8 L831.3,504.3 L831.0,504.9 L830.7,505.4 L830.5,506.0 L830.2,506.5 L829.9,507.0 L829.6,507.6 L829.1,508.0 L828.3,508.2 L827.4,508.4 L826.4,508.4 L825.5,508.4 L824.6,508.4 L823.9,508.5 L823.4,508.7 L823.1,509.1 L822.9,509.5 L822.6,509.9 L822.4,510.2 L822.1,510.6 L821.8,511.0 L821.8,511.6 L821.8,512.4 L822.0,513.4 L822.2,514.6 L822.4,515.7 L822.4,516.8 L822.3,517.7 L822.1,518.4 L821.7,518.8 L821.3,519.3 L820.9,519.7 L820.5,520.1 L820.1,520.5 L819.7,520.9 L819.3,521.3 L818.9,521.7 L818.4,521.8 L817.8,521.5 L817.2,521.0 L816.6,520.4 L816.0,519.7 L815.4,519.1 L815.0,518.7 L814.6,518.6 L814.3,518.8 L813.9,519.0 L813.6,519.2 L813.3,519.5 L813.0,519.7 L812.6,520.0 L812.3,520.6 L812.0,521.5 L811.7,522.8 L811.3,524.2 L810.9,525.6 L810.5,526.8 L810.0,527.8 L809.6,528.4 L809.2,528.6 L808.7,528.8 L808.3,529.0 L807.9,529.2 L807.5,529.4 L807.0,529.5 L806.6,529.7 L806.2,529.8 L805.9,529.5 L805.6,528.8 L805.4,527.8 L805.3,526.6 L805.3,525.4 L805.2,524.4 L805.1,523.6 L804.9,523.2 L804.6,523.1 L804.3,523.2 L804.0,523.2 L803.7,523.2 L803.4,523.2 L803.1,523.3 L802.6,523.8 L802.0,524.6 L801.3,525.8 L800.5,527.1 L799.6,528.3 L798.8,529.4 L798.1,530.2 L797.6,530.5 L797.2,530.5 L796.8,530.4 L796.5,530.3 L796.2,530.2 L795.8,530.1 L795.5,529.9 L795.2,529.8 L794.9,529.6 L794.8,529.1 L794.9,528.1 L795.2,526.9 L795.7,525.5 L796.2,524.1 L796.6,522.9 L796.9,521.9 L796.9,521.3 L796.8,521.1 L796.6,520.9 L796.4,520.7 L796.2,520.5 L796.0,520.3 L795.8,520.2 L795.3,520.4 L794.5,520.9 L793.6,521.6 L792.5,522.5 L791.4,523.3 L790.5,523.9 L789.7,524.2 L789.2,524.2 L789.0,523.9 L788.8,523.6 L788.7,523.2 L788.5,522.9 L788.4,522.5 L788.2,522.1 L788.1,521.7 L788.0,521.3 L788.1,520.6 L788.6,519.7 L789.4,518.5 L790.3,517.3 L791.2,516.1 L792.0,515.0 L792.6,514.1 L792.8,513.5 L792.8,513.1 L792.8,512.8 L792.8,512.4 L792.7,512.1 L792.7,511.7 L792.6,511.4 L792.2,511.2 L791.6,511.3 L790.7,511.4 L789.6,511.6 L788.6,511.7 L787.8,511.7 L787.1,511.6 L786.8,511.2 L786.8,510.7 L786.9,510.2 L786.9,509.7 L787.0,509.2 L787.1,508.6 L787.1,508.1 L787.2,507.6 L787.3,507.0 L787.7,506.4 L788.5,505.7 L789.4,504.9 L790.5,504.2 L791.6,503.5 L792.5,502.9 L793.3,502.3 L793.7,501.8 L793.9,501.4 L794.0,501.0 L794.1,500.6 L794.3,500.1 L794.4,499.7 L794.5,499.3 L794.3,498.9 L793.9,498.4 L793.3,497.9 L792.6,497.4 L791.9,496.8 L791.4,496.2 L791.0,495.5 L791.0,494.9 L791.2,494.4 L791.5,493.8 L791.7,493.3 L792.0,492.8 L792.3,492.2 L792.5,491.7 L792.8,491.1 L793.1,490.6 L793.7,490.2 L794.4,489.9 L795.3,489.8 L796.3,489.7 L797.3,489.7 L798.1,489.7 L798.8,489.6 L799.3,489.4 L799.6,489.1 L799.9,488.7 L800.1,488.3 L800.4,487.9 L800.7,487.5 L800.9,487.1 L801.0,486.5 L800.9,485.7 L800.7,484.7 L800.5,483.6 L800.4,482.5 L800.3,481.4 L800.4,480.5 L800.6,479.8 L801.0,479.3 L801.4,478.9 L801.8,478.5 L802.2,478.0 L802.6,477.6 L803.0,477.2 L803.4,476.8 L803.8,476.5 L804.3,476.4 L804.9,476.6 L805.5,477.1 L806.2,477.8 L806.8,478.5 L807.3,479.1 L807.8,479.5 L808.2,479.6 L808.5,479.4 L808.8,479.2 L809.1,478.9 L809.5,478.7 L809.8,478.5 L810.1,478.2 L810.4,477.6 L810.7,476.6 L811.1,475.4 L811.4,474.0 L811.8,472.6 L812.3,471.4 L812.7,470.4 L813.2,469.8 L813.6,469.5 L814.0,469.3 L814.4,469.2 L814.9,469.0 L815.3,468.8 L815.7,468.6 L816.1,468.5 L816.5,468.4 L816.9,468.7 L817.2,469.3 L817.3,470.3 L817.4,471.5 L817.5,472.7 L817.5,473.8 L817.7,474.6 L817.8,475.0 L818.1,475.0 L818.4,475.0 L818.7,475.0 L819.0,474.9 L819.3,474.9 L819.7,474.9 L820.1,474.4 L820.7,473.5 L821.5,472.4 L822.3,471.1 L823.1,469.8 L823.9,468.8 L824.6,468.0 L825.2,467.6 L825.6,467.7 L825.9,467.8 L826.2,467.9 L826.6,468.0 L826.9,468.1 L827.3,468.2 L827.6,468.3 L827.9,468.5 L828.0,469.1 L827.8,470.0 Z" />
<path class="wk" d="M830.1,472.8 L829.6,474.2 L829.2,475.6 L828.7,476.8 L828.5,477.8 L828.4,478.4 L828.6,478.6 L828.8,478.8 L829.0,479.0 L829.2,479.1 L829.4,479.3 L829.6,479.5 L830.1,479.3 L830.8,478.8 L831.8,478.1 L832.8,477.2 L833.9,476.4 L834.9,475.8 L835.6,475.4 L836.1,475.4 L836.3,475.7 L836.5,476.1 L836.7,476.5 L836.8,476.8 L837.0,477.2 L837.1,477.6 L837.3,477.9 L837.4,478.4 L837.2,479.0 L836.7,480.0 L836.0,481.2 L835.1,482.4 L834.2,483.6 L833.4,484.7 L832.8,485.6 L832.5,486.2 L832.5,486.6 L832.5,486.9 L832.6,487.2 L832.6,487.6 L832.7,488.0 L832.7,488.3 L833.1,488.4 L833.8,488.4 L834.7,488.3 L835.7,488.1 L836.7,488.0 L837.6,488.0 L838.2,488.1 L838.5,488.5 L838.5,489.0 L838.5,489.5 L838.4,490.0 L838.3,490.5 L838.3,491.0 L838.2,491.6 L838.1,492.1 L838.0,492.7 L837.6,493.3 L836.9,494.0 L835.9,494.7 L834.9,495.5 L833.8,496.2 L832.8,496.8 L832.1,497.4 L831.6,497.8 L831.5,498.3 L831.3,498.7 L831.2,499.1 L831.1,499.5 L830.9,500.0 L830.8,500.4 L831.0,500.8 L831.4,501.3 L832.1,501.8 L832.8,502.3 L833.4,502.9 L834.0,503.5 L834.3,504.1 L834.3,504.7 L834.1,505.3 L833.9,505.8 L833.6,506.4 L833.3,506.9 L833.1,507.5 L832.8,508.0 L832.5,508.5 L832.2,509.1 L831.7,509.5 L830.9,509.7 L830.0,509.9 L829.0,509.9 L828.1,509.9 L827.2,510.0 L826.5,510.0 L826.0,510.3 L825.7,510.6 L825.5,511.0 L825.2,511.4 L825.0,511.8 L824.7,512.1 L824.4,512.5 L824.4,513.1 L824.4,513.9 L824.6,514.9 L824.8,516.1 L824.9,517.2 L825.0,518.3 L824.9,519.2 L824.7,519.9 L824.3,520.3 L823.9,520.8 L823.5,521.2 L823.1,521.6 L822.7,522.0 L822.3,522.4 L821.9,522.8 L821.5,523.2 L821.0,523.3 L820.4,523.0 L819.8,522.6 L819.2,521.9 L818.6,521.2 L818.0,520.6 L817.6,520.2 L817.2,520.1 L816.9,520.3 L816.5,520.5 L816.2,520.7 L815.9,521.0 L815.6,521.2 L815.2,521.5 L814.9,522.1 L814.6,523.0 L814.3,524.3 L813.9,525.7 L813.5,527.1 L813.1,528.3 L812.6,529.3 L812.2,529.9 L811.8,530.1 L811.3,530.3 L810.9,530.5 L810.5,530.7 L810.1,530.9 L809.6,531.0 L809.2,531.2 L808.8,531.3 L808.4,531.0 L808.2,530.3 L808.0,529.3 L807.9,528.1 L807.9,526.9 L807.8,525.9 L807.7,525.1 L807.5,524.7 L807.2,524.6 L806.9,524.7 L806.6,524.7 L806.3,524.7 L806.0,524.8 L805.7,524.8 L805.2,525.3 L804.6,526.1 L803.9,527.3 L803.0,528.6 L802.2,529.8 L801.4,530.9 L800.7,531.7 L800.2,532.0 L799.8,532.0 L799.4,531.9 L799.1,531.8 L798.8,531.7 L798.4,531.6 L798.1,531.5 L797.8,531.3 L797.5,531.1 L797.4,530.6 L797.5,529.6 L797.8,528.4 L798.3,527.0 L798.8,525.6 L799.2,524.4 L799.5,523.4 L799.5,522.8 L799.4,522.6 L799.2,522.4 L799.0,522.2 L798.8,522.0 L798.6,521.8 L798.4,521.7 L797.9,521.9 L797.1,522.4 L796.2,523.1 L795.1,524.0 L794.0,524.8 L793.1,525.4 L792.3,525.7 L791.8,525.7 L791.6,525.4 L791.4,525.1 L791.3,524.7 L791.1,524.4 L791.0,524.0 L790.8,523.6 L790.7,523.2 L790.6,522.8 L790.7,522.1 L791.2,521.2 L792.0,520.0 L792.9,518.8 L793.8,517.6 L794.6,516.5 L795.2,515.6 L795.4,515.0 L795.4,514.6 L795.4,514.3 L795.3,513.9 L795.3,513.6 L795.3,513.2 L795.2,512.9 L794.8,512.7 L794.2,512.8 L793.2,512.9 L792.2,513.1 L791.2,513.2 L790.3,513.2 L789.7,513.1 L789.4,512.7 L789.4,512.2 L789.5,511.7 L789.5,511.2 L789.6,510.7 L789.7,510.1 L789.7,509.6 L789.8,509.1 L789.9,508.5 L790.3,507.9 L791.0,507.2 L792.0,506.4 L793.1,505.7 L794.2,505.0 L795.1,504.4 L795.9,503.8 L796.3,503.3 L796.5,502.9 L796.6,502.5 L796.7,502.1 L796.9,501.6 L797.0,501.2 L797.1,500.8 L796.9,500.4 L796.5,499.9 L795.9,499.4 L795.2,498.9 L794.5,498.3 L794.0,497.7 L793.6,497.0 L793.6,496.4 L793.8,495.9 L794.1,495.3 L794.3,494.8 L794.6,494.3 L794.9,493.7 L795.1,493.2 L795.4,492.6 L795.7,492.1 L796.3,491.7 L797.0,491.4 L797.9,491.3 L798.9,491.2 L799.9,491.2 L800.7,491.2 L801.4,491.1 L801.9,490.9 L802.2,490.6 L802.5,490.2 L802.7,489.8 L803.0,489.4 L803.3,489.1 L803.5,488.7 L803.6,488.1 L803.5,487.2 L803.3,486.2 L803.1,485.1 L803.0,484.0 L802.9,482.9 L803.0,482.0 L803.2,481.3 L803.6,480.8 L804.0,480.4 L804.4,480.0 L804.8,479.6 L805.2,479.1 L805.6,478.7 L806.0,478.3 L806.4,478.0 L806.9,477.9 L807.5,478.1 L808.1,478.6 L808.8,479.3 L809.4,480.0 L809.9,480.6 L810.4,481.0 L810.8,481.1 L811.1,480.9 L811.4,480.7 L811.7,480.4 L812.1,480.2 L812.4,480.0 L812.7,479.7 L813.0,479.1 L813.3,478.1 L813.7,476.9 L814.0,475.5 L814.4,474.1 L814.9,472.9 L815.3,471.9 L815.7,471.3 L816.2,471.1 L816.6,470.9 L817.0,470.7 L817.5,470.5 L817.9,470.3 L818.3,470.1 L818.7,470.0 L819.1,469.9 L819.5,470.2 L819.7,470.8 L819.9,471.8 L820.0,473.0 L820.1,474.2 L820.1,475.3 L820.3,476.1 L820.4,476.5 L820.7,476.5 L821.0,476.5 L821.3,476.5 L821.6,476.4 L821.9,476.4 L822.3,476.4 L822.7,475.9 L823.3,475.0 L824.1,473.9 L824.9,472.6 L825.7,471.3 L826.5,470.3 L827.2,469.5 L827.8,469.2 L828.1,469.2 L828.5,469.3 L828.8,469.4 L829.2,469.5 L829.5,469.6 L829.8,469.7 L830.2,469.9 L830.5,470.0 L830.6,470.6 L830.4,471.5 Z" />
<ellipse class="w" cx="815.3" cy="501.3" rx="21.3" ry="12.3" transform="rotate(-59.88626684901756 815.3 501.3)" />
<ellipse class="w" cx="817.5" cy="502.6" rx="19.0" ry="11.0" transform="rotate(-59.88626684901756 817.5 502.6)" />
<ellipse class="wk" cx="819.8" cy="504.0" rx="16.8" ry="9.7" transform="rotate(-59.88626684901756 819.8 504.0)" />
<ellipse class="w" cx="822.2" cy="505.4" rx="14.5" ry="8.4" transform="rotate(-59.88626684901756 822.2 505.4)" />
<path d="M827.4,495.7 L963.3,574.5 L952.2,593.5 L816.4,514.7 Z" fill="#fff" stroke="none"/><path class="k" d="M827.4,495.7 L963.3,574.5" /><path class="k" d="M952.2,593.5 L816.4,514.7" />
<path class="k" d="M816.4,514.7 L815.6,514.1 L815.0,513.3 L814.5,512.2 L814.2,511.0 L814.1,509.7 L814.2,508.2 L814.5,506.7 L815.0,505.1 L815.6,503.5 L816.4,502.0 L817.4,500.6 L818.4,499.2 L819.5,498.0 L820.7,497.0 L821.9,496.2 L823.2,495.6 L824.4,495.3 L825.5,495.2 L826.5,495.3 L827.4,495.7" />
<path class="l" d="M828.3,496.2 L826.9,498.7 L853.7,514.2 L855.5,511.2" />
<path class="k" style="stroke-width:1.9" d="M838.2,500.7 L855.7,510.8" />
<path class="l" d="M926.9,553.4 L925.5,555.9 L953.2,571.9 L954.9,568.9" />
<path class="k" style="stroke-width:1.9" d="M937.2,558.1 L955.2,568.5" />
<path class="wk" d="M974.6,556.6 L974.1,558.0 L973.6,559.4 L973.2,560.6 L972.9,561.6 L972.9,562.2 L973.0,562.4 L973.2,562.6 L973.4,562.7 L973.6,562.9 L973.8,563.1 L974.0,563.3 L974.5,563.1 L975.3,562.6 L976.2,561.8 L977.3,561.0 L978.4,560.2 L979.3,559.6 L980.1,559.2 L980.6,559.2 L980.8,559.5 L981.0,559.9 L981.1,560.2 L981.3,560.6 L981.4,561.0 L981.6,561.3 L981.7,561.7 L981.8,562.2 L981.7,562.8 L981.2,563.8 L980.4,564.9 L979.5,566.2 L978.6,567.4 L977.8,568.5 L977.2,569.3 L977.0,570.0 L977.0,570.3 L977.0,570.7 L977.0,571.0 L977.1,571.4 L977.1,571.7 L977.2,572.1 L977.6,572.2 L978.2,572.2 L979.2,572.0 L980.2,571.9 L981.2,571.7 L982.0,571.7 L982.7,571.9 L983.0,572.2 L983.0,572.7 L982.9,573.3 L982.9,573.8 L982.8,574.3 L982.7,574.8 L982.7,575.4 L982.6,575.9 L982.5,576.4 L982.1,577.1 L981.3,577.8 L980.4,578.5 L979.3,579.3 L978.2,580.0 L977.3,580.6 L976.5,581.2 L976.1,581.6 L975.9,582.1 L975.8,582.5 L975.7,582.9 L975.5,583.3 L975.4,583.7 L975.3,584.2 L975.5,584.6 L975.9,585.0 L976.5,585.5 L977.2,586.1 L977.9,586.7 L978.4,587.3 L978.8,587.9 L978.8,588.5 L978.6,589.1 L978.3,589.6 L978.1,590.2 L977.8,590.7 L977.5,591.2 L977.3,591.8 L977.0,592.3 L976.7,592.8 L976.1,593.3 L975.4,593.5 L974.5,593.7 L973.5,593.7 L972.5,593.7 L971.7,593.7 L971.0,593.8 L970.5,594.0 L970.2,594.4 L969.9,594.8 L969.7,595.2 L969.4,595.5 L969.1,595.9 L968.9,596.3 L968.8,596.9 L968.9,597.7 L969.1,598.7 L969.3,599.8 L969.4,601.0 L969.5,602.1 L969.4,603.0 L969.2,603.7 L968.8,604.1 L968.4,604.6 L968.0,605.0 L967.6,605.4 L967.2,605.8 L966.8,606.2 L966.4,606.6 L966.0,607.0 L965.5,607.1 L964.9,606.8 L964.3,606.3 L963.6,605.7 L963.0,605.0 L962.5,604.4 L962.0,604.0 L961.6,603.9 L961.3,604.1 L961.0,604.3 L960.7,604.5 L960.3,604.8 L960.0,605.0 L959.7,605.3 L959.4,605.9 L959.1,606.8 L958.7,608.1 L958.4,609.5 L958.0,610.8 L957.5,612.1 L957.1,613.1 L956.6,613.7 L956.2,613.9 L955.8,614.1 L955.4,614.3 L954.9,614.5 L954.5,614.6 L954.1,614.8 L953.7,615.0 L953.3,615.1 L952.9,614.8 L952.7,614.1 L952.5,613.1 L952.4,611.9 L952.3,610.7 L952.3,609.6 L952.1,608.9 L952.0,608.5 L951.7,608.4 L951.4,608.5 L951.1,608.5 L950.8,608.5 L950.5,608.5 L950.1,608.6 L949.7,609.1 L949.1,609.9 L948.3,611.1 L947.5,612.3 L946.7,613.6 L945.9,614.7 L945.2,615.5 L944.6,615.8 L944.2,615.8 L943.9,615.7 L943.6,615.6 L943.2,615.5 L942.9,615.4 L942.5,615.2 L942.2,615.1 L941.9,614.9 L941.8,614.4 L942.0,613.4 L942.3,612.2 L942.7,610.8 L943.2,609.4 L943.7,608.1 L943.9,607.2 L944.0,606.6 L943.8,606.4 L943.6,606.2 L943.4,606.0 L943.2,605.8 L943.0,605.6 L942.8,605.5 L942.3,605.6 L941.6,606.2 L940.6,606.9 L939.6,607.7 L938.5,608.5 L937.5,609.2 L936.8,609.5 L936.3,609.5 L936.1,609.2 L935.9,608.9 L935.7,608.5 L935.6,608.1 L935.4,607.8 L935.3,607.4 L935.1,607.0 L935.0,606.6 L935.2,605.9 L935.7,605.0 L936.4,603.8 L937.3,602.6 L938.2,601.4 L939.0,600.3 L939.6,599.4 L939.9,598.8 L939.9,598.4 L939.8,598.1 L939.8,597.7 L939.8,597.4 L939.7,597.0 L939.7,596.7 L939.3,596.5 L938.6,596.6 L937.7,596.7 L936.7,596.9 L935.7,597.0 L934.8,597.0 L934.2,596.8 L933.9,596.5 L933.9,596.0 L933.9,595.5 L934.0,595.0 L934.0,594.4 L934.1,593.9 L934.2,593.4 L934.3,592.9 L934.4,592.3 L934.8,591.7 L935.5,591.0 L936.5,590.2 L937.5,589.5 L938.6,588.8 L939.6,588.1 L940.3,587.6 L940.8,587.1 L940.9,586.7 L941.1,586.3 L941.2,585.8 L941.3,585.4 L941.5,585.0 L941.6,584.6 L941.4,584.2 L940.9,583.7 L940.3,583.2 L939.6,582.7 L939.0,582.1 L938.4,581.5 L938.1,580.8 L938.1,580.2 L938.3,579.7 L938.5,579.1 L938.8,578.6 L939.1,578.0 L939.3,577.5 L939.6,577.0 L939.9,576.4 L940.2,575.9 L940.7,575.5 L941.5,575.2 L942.4,575.1 L943.4,575.0 L944.3,575.0 L945.2,575.0 L945.9,574.9 L946.4,574.7 L946.7,574.3 L946.9,574.0 L947.2,573.6 L947.4,573.2 L947.7,572.8 L948.0,572.4 L948.0,571.8 L948.0,571.0 L947.8,570.0 L947.6,568.9 L947.4,567.8 L947.4,566.7 L947.5,565.8 L947.7,565.1 L948.1,564.6 L948.5,564.2 L948.9,563.8 L949.3,563.3 L949.7,562.9 L950.1,562.5 L950.5,562.1 L950.9,561.8 L951.4,561.7 L952.0,561.9 L952.6,562.4 L953.2,563.1 L953.8,563.8 L954.4,564.4 L954.8,564.8 L955.2,564.9 L955.5,564.7 L955.9,564.5 L956.2,564.2 L956.5,564.0 L956.8,563.8 L957.2,563.5 L957.5,562.9 L957.8,561.9 L958.1,560.7 L958.5,559.3 L958.9,557.9 L959.3,556.7 L959.8,555.7 L960.2,555.1 L960.6,554.8 L961.1,554.6 L961.5,554.5 L961.9,554.3 L962.3,554.1 L962.8,553.9 L963.2,553.8 L963.6,553.7 L964.0,553.9 L964.2,554.6 L964.4,555.6 L964.5,556.8 L964.5,558.0 L964.6,559.1 L964.7,559.9 L964.9,560.3 L965.2,560.3 L965.5,560.3 L965.8,560.2 L966.1,560.2 L966.4,560.2 L966.7,560.1 L967.2,559.7 L967.8,558.8 L968.5,557.7 L969.3,556.4 L970.2,555.1 L971.0,554.0 L971.7,553.3 L972.2,552.9 L972.6,553.0 L973.0,553.1 L973.3,553.2 L973.6,553.3 L974.0,553.4 L974.3,553.5 L974.6,553.6 L974.9,553.8 L975.0,554.4 L974.9,555.3 Z" />
<path class="wk" d="M977.2,558.1 L976.7,559.5 L976.2,560.9 L975.8,562.1 L975.5,563.1 L975.5,563.7 L975.6,563.9 L975.8,564.1 L976.0,564.2 L976.2,564.4 L976.4,564.6 L976.6,564.8 L977.1,564.6 L977.9,564.1 L978.8,563.4 L979.9,562.5 L981.0,561.7 L981.9,561.1 L982.7,560.7 L983.2,560.7 L983.4,561.0 L983.5,561.4 L983.7,561.7 L983.9,562.1 L984.0,562.5 L984.2,562.9 L984.3,563.2 L984.4,563.7 L984.3,564.3 L983.8,565.3 L983.0,566.4 L982.1,567.7 L981.2,568.9 L980.4,570.0 L979.8,570.8 L979.5,571.5 L979.6,571.8 L979.6,572.2 L979.6,572.5 L979.7,572.9 L979.7,573.3 L979.8,573.6 L980.2,573.7 L980.8,573.7 L981.7,573.5 L982.8,573.4 L983.8,573.3 L984.6,573.2 L985.3,573.4 L985.6,573.7 L985.6,574.2 L985.5,574.8 L985.5,575.3 L985.4,575.8 L985.3,576.3 L985.3,576.9 L985.2,577.4 L985.1,577.9 L984.7,578.6 L983.9,579.3 L983.0,580.0 L981.9,580.8 L980.8,581.5 L979.9,582.1 L979.1,582.7 L978.7,583.1 L978.5,583.6 L978.4,584.0 L978.3,584.4 L978.1,584.8 L978.0,585.2 L977.9,585.7 L978.1,586.1 L978.5,586.5 L979.1,587.0 L979.8,587.6 L980.5,588.2 L981.0,588.8 L981.3,589.4 L981.4,590.0 L981.2,590.6 L980.9,591.1 L980.7,591.7 L980.4,592.2 L980.1,592.8 L979.8,593.3 L979.6,593.8 L979.3,594.4 L978.7,594.8 L978.0,595.0 L977.1,595.2 L976.1,595.2 L975.1,595.2 L974.3,595.2 L973.6,595.3 L973.1,595.5 L972.8,595.9 L972.5,596.3 L972.3,596.7 L972.0,597.0 L971.7,597.4 L971.5,597.8 L971.4,598.4 L971.5,599.2 L971.7,600.2 L971.8,601.3 L972.0,602.5 L972.1,603.6 L972.0,604.5 L971.7,605.2 L971.4,605.6 L971.0,606.1 L970.6,606.5 L970.2,606.9 L969.8,607.3 L969.4,607.7 L969.0,608.1 L968.6,608.5 L968.1,608.6 L967.5,608.3 L966.9,607.8 L966.2,607.2 L965.6,606.5 L965.1,605.9 L964.6,605.5 L964.2,605.4 L963.9,605.6 L963.6,605.8 L963.3,606.0 L962.9,606.3 L962.6,606.5 L962.3,606.8 L962.0,607.4 L961.7,608.3 L961.3,609.6 L961.0,611.0 L960.6,612.4 L960.1,613.6 L959.7,614.6 L959.2,615.2 L958.8,615.4 L958.4,615.6 L958.0,615.8 L957.5,616.0 L957.1,616.2 L956.7,616.3 L956.3,616.5 L955.8,616.6 L955.5,616.3 L955.2,615.6 L955.1,614.6 L955.0,613.4 L954.9,612.2 L954.8,611.2 L954.7,610.4 L954.5,610.0 L954.3,609.9 L954.0,610.0 L953.7,610.0 L953.4,610.0 L953.1,610.0 L952.7,610.1 L952.3,610.6 L951.7,611.4 L950.9,612.6 L950.1,613.9 L949.3,615.1 L948.4,616.2 L947.7,617.0 L947.2,617.3 L946.8,617.3 L946.5,617.2 L946.2,617.1 L945.8,617.0 L945.5,616.9 L945.1,616.7 L944.8,616.6 L944.5,616.4 L944.4,615.9 L944.6,614.9 L944.9,613.7 L945.3,612.3 L945.8,610.9 L946.3,609.7 L946.5,608.7 L946.6,608.1 L946.4,607.9 L946.2,607.7 L946.0,607.5 L945.8,607.3 L945.6,607.1 L945.4,607.0 L944.9,607.2 L944.2,607.7 L943.2,608.4 L942.2,609.2 L941.1,610.0 L940.1,610.7 L939.4,611.0 L938.9,611.0 L938.7,610.7 L938.5,610.4 L938.3,610.0 L938.2,609.7 L938.0,609.3 L937.9,608.9 L937.7,608.5 L937.6,608.1 L937.8,607.4 L938.3,606.5 L939.0,605.3 L939.9,604.1 L940.8,602.9 L941.6,601.8 L942.2,600.9 L942.5,600.3 L942.5,599.9 L942.4,599.6 L942.4,599.2 L942.4,598.9 L942.3,598.5 L942.3,598.2 L941.9,598.0 L941.2,598.1 L940.3,598.2 L939.3,598.4 L938.3,598.5 L937.4,598.5 L936.8,598.4 L936.5,598.0 L936.5,597.5 L936.5,597.0 L936.6,596.5 L936.6,596.0 L936.7,595.4 L936.8,594.9 L936.9,594.4 L937.0,593.8 L937.4,593.2 L938.1,592.5 L939.1,591.7 L940.1,591.0 L941.2,590.3 L942.2,589.7 L942.9,589.1 L943.4,588.6 L943.5,588.2 L943.7,587.8 L943.8,587.4 L943.9,586.9 L944.0,586.5 L944.1,586.1 L944.0,585.7 L943.5,585.2 L942.9,584.7 L942.2,584.2 L941.5,583.6 L941.0,583.0 L940.7,582.3 L940.7,581.7 L940.9,581.2 L941.1,580.6 L941.4,580.1 L941.7,579.5 L941.9,579.0 L942.2,578.5 L942.5,577.9 L942.8,577.4 L943.3,577.0 L944.1,576.7 L945.0,576.6 L946.0,576.5 L946.9,576.5 L947.8,576.5 L948.5,576.4 L949.0,576.2 L949.3,575.9 L949.5,575.5 L949.8,575.1 L950.0,574.7 L950.3,574.3 L950.6,573.9 L950.6,573.3 L950.6,572.5 L950.4,571.5 L950.2,570.4 L950.0,569.3 L950.0,568.2 L950.1,567.3 L950.3,566.6 L950.7,566.1 L951.1,565.7 L951.5,565.3 L951.9,564.8 L952.3,564.4 L952.7,564.0 L953.1,563.6 L953.5,563.3 L954.0,563.2 L954.6,563.4 L955.2,563.9 L955.8,564.6 L956.4,565.3 L957.0,565.9 L957.4,566.3 L957.8,566.4 L958.1,566.2 L958.5,566.0 L958.8,565.7 L959.1,565.5 L959.4,565.3 L959.8,565.0 L960.1,564.4 L960.4,563.4 L960.7,562.2 L961.1,560.8 L961.5,559.4 L961.9,558.2 L962.4,557.2 L962.8,556.6 L963.2,556.3 L963.7,556.1 L964.1,556.0 L964.5,555.8 L964.9,555.6 L965.4,555.4 L965.8,555.3 L966.2,555.2 L966.5,555.5 L966.8,556.1 L967.0,557.1 L967.1,558.3 L967.1,559.5 L967.2,560.6 L967.3,561.4 L967.5,561.8 L967.8,561.8 L968.1,561.8 L968.4,561.8 L968.7,561.7 L969.0,561.7 L969.3,561.6 L969.8,561.2 L970.4,560.3 L971.1,559.2 L971.9,557.9 L972.8,556.6 L973.6,555.6 L974.3,554.8 L974.8,554.4 L975.2,554.5 L975.6,554.6 L975.9,554.7 L976.2,554.8 L976.6,554.9 L976.9,555.0 L977.2,555.1 L977.5,555.3 L977.6,555.9 L977.5,556.8 Z" />
<ellipse class="w" cx="962.3" cy="586.6" rx="21.3" ry="12.3" transform="rotate(-59.88626684901756 962.3 586.6)" />
<ellipse class="w" cx="964.6" cy="587.9" rx="19.0" ry="11.0" transform="rotate(-59.88626684901756 964.6 587.9)" />
<ellipse class="wk" cx="966.9" cy="589.3" rx="16.8" ry="9.7" transform="rotate(-59.88626684901756 966.9 589.3)" />
<ellipse class="w" cx="969.2" cy="590.6" rx="14.5" ry="8.4" transform="rotate(-59.88626684901756 969.2 590.6)" />
<path d="M974.5,581.0 L1007.4,600.0 L996.3,619.1 L963.5,600.0 Z" fill="#fff" stroke="none"/><path class="k" d="M974.5,581.0 L1007.4,600.0" /><path class="k" d="M996.3,619.1 L963.5,600.0" />
<path class="k" d="M963.5,600.0 L962.7,599.4 L962.0,598.6 L961.6,597.5 L961.3,596.3 L961.2,595.0 L961.3,593.5 L961.6,592.0 L962.1,590.4 L962.7,588.8 L963.5,587.3 L964.4,585.9 L965.5,584.5 L966.6,583.3 L967.8,582.3 L969.0,581.5 L970.2,580.9 L971.4,580.6 L972.5,580.5 L973.6,580.6 L974.5,581.0" />
<path class="l" d="M975.4,581.5 L973.9,584.0 L985.2,590.5 L986.9,587.4" />
<path class="k" style="stroke-width:1.9" d="M979.9,582.8 L987.2,587.1" />
<path class="l" d="M996.3,619.1 L995.5,618.5 L994.9,617.6 L994.4,616.6 L994.2,615.4 L994.1,614.0 L994.2,612.6 L994.5,611.0 L994.9,609.5 L995.6,607.9 L996.4,606.4 L997.3,604.9 L998.3,603.6 L999.5,602.4 L1000.7,601.4 L1001.9,600.6 L1003.1,600.0 L1004.3,599.6 L1005.4,599.5 L1006.4,599.7 L1007.4,600.0" />
<path d="M1006.8,601.1 L1057.8,630.7 L1048.0,647.6 L996.9,618.0 Z" fill="#fff" stroke="none"/><path class="k" d="M1006.8,601.1 L1057.8,630.7" /><path class="k" d="M1048.0,647.6 L996.9,618.0" />
<ellipse class="wk" cx="1052.9" cy="639.2" rx="9.8" ry="5.7" transform="rotate(-59.88626684901756 1052.9 639.2)" />
<ellipse class="l" cx="1053.4" cy="639.5" rx="5.2" ry="3.0" transform="rotate(-59.88626684901756 1053.4 639.5)" />
<ellipse class="l" cx="1053.7" cy="639.7" rx="2.6" ry="1.5" transform="rotate(-59.88626684901756 1053.7 639.7)" />
<path class="l" d="M1014.8,613.1 L1054.6,636.2 L1057.1,632.0 L1017.3,608.9 L1014.8,613.1" />
<path class="k" style="stroke-width:2.2" d="M1017.3,608.9 L1057.1,632.0" />
<!-- 05_keys.py -->
<path class="wk" d="M549.6,314.0 L554.6,311.2 L578.0,324.7 L578.0,329.0 L573.0,331.8 L549.6,318.3 Z" />
<path class="l" d="M549.6,314.0 L573.0,327.5 L578.0,324.7" />
<path class="l" d="M573.0,327.5 L573.0,331.8" />
<path class="t" d="M567.8,324.5 L572.8,321.7" />
<path class="wk" d="M634.2,361.0 L639.2,358.2 L662.6,371.7 L662.6,376.0 L657.6,378.8 L634.2,365.3 Z" />
<path class="l" d="M634.2,361.0 L657.6,374.5 L662.6,371.7" />
<path class="l" d="M657.6,374.5 L657.6,378.8" />
<path class="t" d="M652.4,371.5 L657.4,368.7" />
<path class="wk" d="M844.7,485.0 L849.7,482.2 L873.1,495.7 L873.1,500.0 L868.1,502.8 L844.7,489.3 Z" />
<path class="l" d="M844.7,485.0 L868.1,498.5 L873.1,495.7" />
<path class="l" d="M868.1,498.5 L868.1,502.8" />
<path class="t" d="M862.9,495.5 L867.9,492.7" />
<path class="wk" d="M929.2,532.2 L934.2,529.4 L957.6,542.9 L957.6,547.2 L952.6,550.0 L929.2,536.5 Z" />
<path class="l" d="M929.2,532.2 L952.6,545.7 L957.6,542.9" />
<path class="l" d="M952.6,545.7 L952.6,550.0" />
<path class="t" d="M947.4,542.7 L952.4,539.9" />
<!-- 06_links.py -->
<path class="wk" d="M385.0,467.0 L385.0,477.6 L389.5,480.3 L397.8,484.8 L402.2,486.8 L406.1,484.2 L415.6,479.2 L417.2,476.4 Z" />
<path class="l" d="M389.5,472.0 L389.5,480.3" />
<path class="k" d="M397.8,474.8 L397.8,485.1" />
<path class="l" d="M406.1,477.0 L406.1,484.2" />
<path class="l" d="M389.5,475.3 L397.8,479.8" />
<path class="wk" d="M384.9,462.4 Q383.9,460.0 386.0,458.6 L387.9,457.3 Q390.0,455.9 394.7,456.1 L398.7,456.2 Q403.3,456.4 409.2,459.2 L414.2,461.5 Q420.0,464.2 421.0,466.9 L421.8,469.3 Q422.8,472.0 420.8,473.6 L419.2,474.9 Q417.2,476.4 412.4,476.2 L408.2,476.1 Q403.3,475.9 397.5,472.8 L392.5,470.1 Q386.7,467.0 385.7,464.6 Z"/>
<ellipse class="l" cx="402.8" cy="481.4" rx="2.3" ry="1.5" transform="rotate(-60 402.8 481.4)" />
<circle class="b" cx="391.7" cy="458.7" r="1"/><circle class="b" cx="415.6" cy="473.3" r="1"/>
<path class="wk" style="stroke-width:1.9" d="M428.9,460.4 L427.9,460.7 L426.9,460.8 L425.9,460.5 L425.0,460.0 L424.2,459.3 L423.7,458.4 L423.4,457.5 L423.4,456.4 L423.7,455.5 L424.1,454.6 L424.9,453.8 L425.7,453.3 L439.3,447.4 L440.3,447.1 L441.3,447.0 L442.3,447.3 L443.2,447.8 L443.9,448.5 L444.4,449.4 L444.7,450.3 L444.7,451.4 L444.5,452.3 L444.0,453.2 L443.3,454.0 L442.4,454.5 Z" />
<path class="w" d="M428.5,454.0 L438.2,459.6 L438.2,466.8 L428.5,461.2 Z" />
<path class="w" d="M442.1,448.0 L451.7,453.6 L451.7,460.8 L442.1,455.2 Z" />
<path class="wk" style="stroke-width:1.9" d="M441.0,467.5 L440.0,467.8 L439.0,467.8 L438.0,467.5 L437.1,467.0 L436.4,466.3 L435.8,465.5 L435.5,464.5 L435.5,463.5 L435.8,462.5 L436.3,461.6 L437.0,460.9 L437.8,460.3 L451.4,454.4 L452.4,454.1 L453.4,454.1 L454.4,454.3 L455.3,454.8 L456.0,455.5 L456.5,456.4 L456.8,457.4 L456.8,458.4 L456.6,459.4 L456.1,460.3 L455.4,461.0 L454.5,461.5 Z" />
<ellipse class="l" cx="439.4" cy="463.9" rx="2.0" ry="1.3" transform="rotate(-60 439.4 463.9)" />
<ellipse class="l" cx="453.0" cy="458.0" rx="2.0" ry="1.3" transform="rotate(-60 453.0 458.0)" />
<path class="wk" style="stroke-width:1.9" d="M462.5,446.1 L461.5,446.4 L460.5,446.5 L459.5,446.2 L458.6,445.7 L457.8,445.0 L457.3,444.1 L457.0,443.2 L457.0,442.1 L457.3,441.2 L457.7,440.3 L458.5,439.5 L459.3,439.0 L471.2,433.8 L472.2,433.5 L473.2,433.5 L474.2,433.7 L475.1,434.2 L475.8,434.9 L476.4,435.8 L476.7,436.8 L476.7,437.8 L476.4,438.8 L475.9,439.7 L475.2,440.4 L474.4,440.9 Z" />
<path class="w" d="M462.1,440.3 L471.8,445.9 L471.8,451.9 L462.1,446.3 Z" />
<path class="w" d="M474.0,435.1 L483.7,440.7 L483.7,446.7 L474.0,441.1 Z" />
<path class="wk" style="stroke-width:1.9" d="M474.6,453.2 L473.6,453.5 L472.6,453.5 L471.6,453.2 L470.7,452.7 L470.0,452.0 L469.4,451.2 L469.1,450.2 L469.1,449.2 L469.4,448.2 L469.9,447.3 L470.6,446.6 L471.4,446.0 L483.3,440.8 L484.3,440.5 L485.3,440.5 L486.3,440.7 L487.2,441.2 L488.0,441.9 L488.5,442.8 L488.8,443.8 L488.8,444.8 L488.5,445.8 L488.1,446.7 L487.3,447.4 L486.5,447.9 Z" />
<ellipse class="l" cx="473.0" cy="449.6" rx="2.0" ry="1.3" transform="rotate(-60 473.0 449.6)" />
<ellipse class="l" cx="484.9" cy="444.4" rx="2.0" ry="1.3" transform="rotate(-60 484.9 444.4)" />
<path class="wk" style="stroke-width:1.9" d="M495.6,433.2 L494.6,433.5 L493.6,433.6 L492.6,433.3 L491.7,432.8 L490.9,432.1 L490.4,431.2 L490.1,430.3 L490.1,429.2 L490.4,428.3 L490.8,427.4 L491.6,426.6 L492.4,426.1 L506.0,420.2 L507.0,419.9 L508.0,419.8 L509.0,420.1 L509.9,420.6 L510.6,421.3 L511.1,422.2 L511.4,423.1 L511.4,424.2 L511.2,425.1 L510.7,426.0 L510.0,426.8 L509.1,427.3 Z" />
<path class="w" d="M495.2,428.4 L504.9,434.0 L504.9,438.0 L495.2,432.4 Z" />
<path class="w" d="M508.8,422.4 L518.4,428.0 L518.4,432.0 L508.8,426.4 Z" />
<path class="wk" style="stroke-width:1.9" d="M507.7,440.3 L506.7,440.6 L505.7,440.6 L504.7,440.3 L503.8,439.8 L503.1,439.1 L502.5,438.3 L502.2,437.3 L502.2,436.3 L502.5,435.3 L503.0,434.4 L503.7,433.7 L504.5,433.1 L518.1,427.2 L519.1,426.9 L520.1,426.9 L521.1,427.1 L522.0,427.6 L522.7,428.3 L523.2,429.2 L523.5,430.2 L523.5,431.2 L523.3,432.2 L522.8,433.1 L522.1,433.8 L521.2,434.3 Z" />
<ellipse class="l" cx="506.1" cy="436.7" rx="2.0" ry="1.3" transform="rotate(-60 506.1 436.7)" />
<ellipse class="l" cx="519.7" cy="430.8" rx="2.0" ry="1.3" transform="rotate(-60 519.7 430.8)" />
<path class="wk" style="stroke-width:1.9" d="M561.4,402.8 L560.5,403.1 L559.4,403.1 L558.4,402.9 L557.6,402.4 L556.8,401.7 L556.3,400.8 L556.0,399.8 L556.0,398.8 L556.2,397.8 L556.7,396.9 L557.4,396.2 L558.3,395.7 L571.6,389.9 L572.6,389.6 L573.6,389.6 L574.6,389.8 L575.5,390.3 L576.2,391.0 L576.7,391.9 L577.0,392.8 L577.0,393.9 L576.8,394.8 L576.3,395.7 L575.6,396.5 L574.7,397.0 Z" />
<path class="w" d="M561.0,397.9 L570.0,403.1 L570.0,407.1 L561.0,401.9 Z" />
<path class="w" d="M574.3,392.1 L583.3,397.3 L583.3,401.3 L574.3,396.1 Z" />
<path class="wk" style="stroke-width:1.9" d="M572.7,409.3 L571.7,409.6 L570.7,409.7 L569.7,409.4 L568.8,408.9 L568.1,408.2 L567.5,407.3 L567.3,406.4 L567.2,405.3 L567.5,404.4 L568.0,403.5 L568.7,402.7 L569.5,402.2 L582.8,396.4 L583.8,396.1 L584.8,396.1 L585.8,396.3 L586.7,396.8 L587.4,397.5 L588.0,398.4 L588.2,399.4 L588.3,400.4 L588.0,401.4 L587.5,402.3 L586.8,403.0 L586.0,403.5 Z" />
<ellipse class="l" cx="571.1" cy="405.8" rx="2.0" ry="1.3" transform="rotate(-60 571.1 405.8)" />
<ellipse class="l" cx="584.4" cy="399.9" rx="2.0" ry="1.3" transform="rotate(-60 584.4 399.9)" />
<path class="wk" style="stroke-width:1.9" d="M532.0,415.9 L531.0,416.2 L530.0,416.2 L529.0,416.0 L528.1,415.5 L527.4,414.8 L526.9,413.9 L526.6,413.0 L526.5,411.9 L526.8,410.9 L527.3,410.1 L528.0,409.3 L528.9,408.8 L541.9,403.1 L542.8,402.8 L543.9,402.8 L544.8,403.0 L545.7,403.5 L546.5,404.2 L547.0,405.1 L547.3,406.1 L547.3,407.1 L547.1,408.1 L546.6,409.0 L545.9,409.7 L545.0,410.2 Z" />
<path class="w" d="M531.5,409.6 L540.5,414.8 L540.5,421.6 L531.5,416.4 Z" />
<path class="w" d="M544.6,403.9 L553.5,409.1 L553.5,415.9 L544.6,410.7 Z" />
<path class="wk" style="stroke-width:1.9" d="M543.2,422.5 L542.3,422.7 L541.2,422.8 L540.2,422.5 L539.4,422.0 L538.6,421.3 L538.1,420.5 L537.8,419.5 L537.8,418.5 L538.0,417.5 L538.5,416.6 L539.2,415.8 L540.1,415.3 L553.1,409.6 L554.1,409.3 L555.1,409.3 L556.1,409.5 L557.0,410.0 L557.7,410.7 L558.2,411.6 L558.5,412.6 L558.6,413.6 L558.3,414.6 L557.8,415.5 L557.1,416.2 L556.2,416.8 Z" />
<ellipse class="l" cx="541.7" cy="418.9" rx="2.0" ry="1.3" transform="rotate(-60 541.7 418.9)" />
<ellipse class="l" cx="554.7" cy="413.2" rx="2.0" ry="1.3" transform="rotate(-60 554.7 413.2)" />
<path class="w" d="M537.8,396.7 L537.8,403.3 L542.2,406.7 L542.2,400.0 Z" />
<path class="w" d="M553.3,405.6 L553.3,411.7 L558.3,413.3 L558.3,407.2 Z" />
<path class="wk" d="M536.3,393.1 Q535.6,391.1 538.7,389.8 L541.3,388.6 Q544.4,387.2 548.7,387.6 L552.4,387.9 Q556.7,388.3 562.1,391.6 L566.8,394.5 Q572.2,397.8 572.0,399.7 L571.9,401.4 Q571.7,403.3 569.5,404.7 L567.7,405.9 Q565.6,407.2 561.3,406.6 L557.6,406.1 Q553.3,405.6 547.9,402.4 L543.2,399.8 Q537.8,396.7 537.0,394.7 Z"/>
<circle class="b" cx="543.1" cy="390.8" r="1.1"/><circle class="b" cx="566.4" cy="403.9" r="1.1"/>
<path class="wk" d="M689.7,637.2 L689.7,647.8 L694.2,650.5 L702.5,655.0 L706.9,657.0 L710.8,654.4 L720.3,649.4 L721.9,646.6 Z" />
<path class="l" d="M694.2,642.2 L694.2,650.5" />
<path class="k" d="M702.5,645.0 L702.5,655.3" />
<path class="l" d="M710.8,647.2 L710.8,654.4" />
<path class="l" d="M694.2,645.5 L702.5,650.0" />
<path class="wk" d="M689.6,632.6 Q688.6,630.2 690.7,628.8 L692.6,627.5 Q694.7,626.1 699.4,626.3 L703.4,626.4 Q708.0,626.6 713.9,629.4 L718.9,631.7 Q724.7,634.4 725.7,637.1 L726.5,639.5 Q727.5,642.2 725.5,643.8 L723.9,645.1 Q721.9,646.6 717.1,646.4 L712.9,646.3 Q708.0,646.1 702.2,643.0 L697.2,640.3 Q691.4,637.2 690.4,634.7 Z"/>
<ellipse class="l" cx="707.5" cy="651.6" rx="2.3" ry="1.5" transform="rotate(-60 707.5 651.6)" />
<circle class="b" cx="696.4" cy="628.9" r="1"/><circle class="b" cx="720.3" cy="643.5" r="1"/>
<path class="wk" style="stroke-width:1.9" d="M733.6,630.6 L732.6,630.9 L731.6,631.0 L730.6,630.7 L729.7,630.2 L728.9,629.5 L728.4,628.6 L728.1,627.7 L728.1,626.6 L728.4,625.7 L728.8,624.8 L729.6,624.0 L730.4,623.5 L744.0,617.6 L745.0,617.3 L746.0,617.2 L747.0,617.5 L747.9,618.0 L748.6,618.7 L749.1,619.6 L749.4,620.5 L749.4,621.6 L749.2,622.5 L748.7,623.4 L748.0,624.2 L747.1,624.7 Z" />
<path class="w" d="M733.2,624.2 L742.9,629.8 L742.9,637.0 L733.2,631.4 Z" />
<path class="w" d="M746.8,618.2 L756.4,623.8 L756.4,631.0 L746.8,625.4 Z" />
<path class="wk" style="stroke-width:1.9" d="M745.7,637.7 L744.7,638.0 L743.7,638.0 L742.7,637.7 L741.8,637.2 L741.1,636.5 L740.5,635.7 L740.2,634.7 L740.2,633.7 L740.5,632.7 L741.0,631.8 L741.7,631.1 L742.5,630.5 L756.1,624.6 L757.1,624.3 L758.1,624.3 L759.1,624.5 L760.0,625.0 L760.7,625.7 L761.2,626.6 L761.5,627.6 L761.5,628.6 L761.3,629.6 L760.8,630.5 L760.1,631.2 L759.2,631.7 Z" />
<ellipse class="l" cx="744.1" cy="634.1" rx="2.0" ry="1.3" transform="rotate(-60 744.1 634.1)" />
<ellipse class="l" cx="757.7" cy="628.2" rx="2.0" ry="1.3" transform="rotate(-60 757.7 628.2)" />
<path class="wk" style="stroke-width:1.9" d="M767.2,616.3 L766.2,616.6 L765.2,616.7 L764.2,616.4 L763.3,615.9 L762.5,615.2 L762.0,614.3 L761.7,613.4 L761.7,612.3 L762.0,611.4 L762.4,610.5 L763.2,609.7 L764.0,609.2 L775.9,604.0 L776.9,603.7 L777.9,603.7 L778.9,603.9 L779.8,604.4 L780.5,605.1 L781.1,606.0 L781.4,607.0 L781.4,608.0 L781.1,609.0 L780.6,609.9 L779.9,610.6 L779.1,611.1 Z" />
<path class="w" d="M766.8,610.5 L776.5,616.1 L776.5,622.1 L766.8,616.5 Z" />
<path class="w" d="M778.7,605.3 L788.4,610.9 L788.4,616.9 L778.7,611.3 Z" />
<path class="wk" style="stroke-width:1.9" d="M779.3,623.4 L778.3,623.7 L777.3,623.7 L776.3,623.4 L775.4,622.9 L774.7,622.2 L774.1,621.4 L773.8,620.4 L773.8,619.4 L774.1,618.4 L774.6,617.5 L775.3,616.8 L776.1,616.2 L788.0,611.0 L789.0,610.7 L790.0,610.7 L791.0,610.9 L791.9,611.4 L792.7,612.1 L793.2,613.0 L793.5,614.0 L793.5,615.0 L793.2,616.0 L792.8,616.9 L792.0,617.6 L791.2,618.1 Z" />
<ellipse class="l" cx="777.7" cy="619.8" rx="2.0" ry="1.3" transform="rotate(-60 777.7 619.8)" />
<ellipse class="l" cx="789.6" cy="614.6" rx="2.0" ry="1.3" transform="rotate(-60 789.6 614.6)" />
<path class="wk" style="stroke-width:1.9" d="M800.3,603.4 L799.3,603.7 L798.3,603.8 L797.3,603.5 L796.4,603.0 L795.6,602.3 L795.1,601.4 L794.8,600.5 L794.8,599.4 L795.1,598.5 L795.5,597.6 L796.3,596.8 L797.1,596.3 L810.7,590.4 L811.7,590.1 L812.7,590.0 L813.7,590.3 L814.6,590.8 L815.3,591.5 L815.8,592.4 L816.1,593.3 L816.1,594.4 L815.9,595.3 L815.4,596.2 L814.7,597.0 L813.8,597.5 Z" />
<path class="w" d="M799.9,598.6 L809.6,604.2 L809.6,608.2 L799.9,602.6 Z" />
<path class="w" d="M813.5,592.6 L823.1,598.2 L823.1,602.2 L813.5,596.6 Z" />
<path class="wk" style="stroke-width:1.9" d="M812.4,610.5 L811.4,610.8 L810.4,610.8 L809.4,610.5 L808.5,610.0 L807.8,609.3 L807.2,608.5 L806.9,607.5 L806.9,606.5 L807.2,605.5 L807.7,604.6 L808.4,603.9 L809.2,603.3 L822.8,597.4 L823.8,597.1 L824.8,597.1 L825.8,597.3 L826.7,597.8 L827.4,598.5 L827.9,599.4 L828.2,600.4 L828.2,601.4 L828.0,602.4 L827.5,603.3 L826.8,604.0 L825.9,604.5 Z" />
<ellipse class="l" cx="810.8" cy="606.9" rx="2.0" ry="1.3" transform="rotate(-60 810.8 606.9)" />
<ellipse class="l" cx="824.4" cy="601.0" rx="2.0" ry="1.3" transform="rotate(-60 824.4 601.0)" />
<path class="wk" style="stroke-width:1.9" d="M858.1,572.7 L857.2,573.0 L856.1,573.0 L855.1,572.8 L854.3,572.3 L853.5,571.6 L853.0,570.7 L852.7,569.7 L852.7,568.7 L852.9,567.7 L853.4,566.8 L854.1,566.1 L855.0,565.6 L868.3,559.8 L869.3,559.5 L870.3,559.5 L871.3,559.7 L872.2,560.2 L872.9,560.9 L873.4,561.8 L873.7,562.7 L873.7,563.8 L873.5,564.7 L873.0,565.6 L872.3,566.4 L871.4,566.9 Z" />
<path class="w" d="M857.7,567.8 L866.7,573.0 L866.7,577.0 L857.7,571.8 Z" />
<path class="w" d="M871.0,562.0 L880.0,567.2 L880.0,571.2 L871.0,566.0 Z" />
<path class="wk" style="stroke-width:1.9" d="M869.4,579.2 L868.4,579.5 L867.4,579.6 L866.4,579.3 L865.5,578.8 L864.8,578.1 L864.2,577.2 L864.0,576.3 L863.9,575.2 L864.2,574.3 L864.7,573.4 L865.4,572.6 L866.2,572.1 L879.5,566.3 L880.5,566.0 L881.5,566.0 L882.5,566.2 L883.4,566.7 L884.1,567.4 L884.7,568.3 L884.9,569.3 L885.0,570.3 L884.7,571.3 L884.2,572.2 L883.5,572.9 L882.7,573.4 Z" />
<ellipse class="l" cx="867.8" cy="575.7" rx="2.0" ry="1.3" transform="rotate(-60 867.8 575.7)" />
<ellipse class="l" cx="881.1" cy="569.8" rx="2.0" ry="1.3" transform="rotate(-60 881.1 569.8)" />
<path class="wk" style="stroke-width:1.9" d="M828.7,585.8 L827.7,586.1 L826.7,586.1 L825.7,585.9 L824.8,585.4 L824.1,584.7 L823.6,583.8 L823.3,582.9 L823.2,581.8 L823.5,580.8 L824.0,580.0 L824.7,579.2 L825.6,578.7 L838.6,573.0 L839.5,572.7 L840.6,572.7 L841.5,572.9 L842.4,573.4 L843.2,574.1 L843.7,575.0 L844.0,576.0 L844.0,577.0 L843.8,578.0 L843.3,578.9 L842.6,579.6 L841.7,580.1 Z" />
<path class="w" d="M828.2,579.5 L837.2,584.7 L837.2,591.5 L828.2,586.3 Z" />
<path class="w" d="M841.3,573.8 L850.2,579.0 L850.2,585.8 L841.3,580.6 Z" />
<path class="wk" style="stroke-width:1.9" d="M839.9,592.4 L839.0,592.6 L837.9,592.7 L836.9,592.4 L836.1,591.9 L835.3,591.2 L834.8,590.4 L834.5,589.4 L834.5,588.4 L834.7,587.4 L835.2,586.5 L835.9,585.7 L836.8,585.2 L849.8,579.5 L850.8,579.2 L851.8,579.2 L852.8,579.4 L853.7,579.9 L854.4,580.6 L854.9,581.5 L855.2,582.5 L855.3,583.5 L855.0,584.5 L854.5,585.4 L853.8,586.1 L852.9,586.7 Z" />
<ellipse class="l" cx="838.4" cy="588.8" rx="2.0" ry="1.3" transform="rotate(-60 838.4 588.8)" />
<ellipse class="l" cx="851.4" cy="583.1" rx="2.0" ry="1.3" transform="rotate(-60 851.4 583.1)" />
<path class="w" d="M834.5,566.6 L834.5,573.2 L838.9,576.6 L838.9,569.9 Z" />
<path class="w" d="M850.0,575.5 L850.0,581.6 L855.0,583.2 L855.0,577.1 Z" />
<path class="wk" d="M833.0,563.0 Q832.3,561.0 835.4,559.7 L838.0,558.5 Q841.1,557.1 845.4,557.5 L849.1,557.8 Q853.4,558.2 858.8,561.5 L863.5,564.4 Q868.9,567.7 868.7,569.6 L868.6,571.3 Q868.4,573.2 866.2,574.6 L864.4,575.8 Q862.3,577.1 858.0,576.5 L854.3,576.0 Q850.0,575.5 844.6,572.3 L839.9,569.7 Q834.5,566.6 833.7,564.6 Z"/>
<circle class="b" cx="839.8" cy="560.7" r="1.1"/><circle class="b" cx="863.1" cy="573.8" r="1.1"/>
<path class="l" d="M381.7,414.7 L381.9,450 L391,457.8 M408.6,414.7 V424.4 L433.9,449.4 M436.1,414.7 L436.7,418.3 L457.8,439.4 M475.6,401.7 H481.7 L498.9,419 M520.2,402 H535"/>
<path class="l" d="M712.4,655.6 V669.5 M747.4,640 V669.5 M782.8,625.6 V669.5 M818.3,610.6 V669.5 M848.5,592.5 V670"/>
<!-- 07_bearing33.py -->
<g transform="translate(730,340) scale(0.111111)">
<path class="l" d="M183,-195 V175 M433,-195 V45 L300,170 M680,-195 V310"/>
<rect x="173" y="-27" width="22" height="22" class="w" style="stroke-width:1.3"/>
<path class="l" d="M1240,530 H1000 L720,810 M1240,770 H930 L810,885 M1240,1010 H1000"/>
<ellipse class="w" cx="188.0" cy="285.0" rx="142.0" ry="92.0" transform="rotate(-60 188.0 285.0)" />
<ellipse class="wk" cx="226.0" cy="296.0" rx="140.0" ry="80.0" transform="rotate(-60 226.0 296.0)" />
<ellipse class="k" cx="232.0" cy="298.0" rx="118.0" ry="62.0" transform="rotate(-60 232.0 298.0)" />
<g clip-path="url(#c32)"><ellipse class="l" cx="196.0" cy="280.0" rx="118.0" ry="62.0" transform="rotate(-60 196.0 280.0)" /></g>
<clipPath id="c32"><ellipse class="l" cx="232.0" cy="298.0" rx="118.0" ry="62.0" transform="rotate(-60 232.0 298.0)" /></clipPath>
<path class="k" d="M150,160 L165,185 L200,178 M225,140 L290,165 L320,215"/>
<circle class="b" cx="95" cy="345" r="10"/>
<path class="wk" d="M520,245 Q430,250 370,350 Q310,460 320,540 Q335,600 372,640 L365,760 Q400,798 455,775 L440,770 L405,700 L400,640 L560,690 L745,365 L690,315 Z"/>
<path class="l" d="M490,265 Q410,300 365,400 Q335,480 345,545 Q355,590 380,615"/>
<path class="w" d="M515,340 L560,362 L480,425 L400,525 L400,640 L440,770 L470,740 L520,600 Z"/>
<path class="l" d="M478,292 L372,475"/>
<ellipse class="l" cx="432.0" cy="545.0" rx="14.0" ry="9.0" transform="rotate(-60 432.0 545.0)" />
<ellipse class="l" cx="440.0" cy="720.0" rx="13.0" ry="8.0" transform="rotate(-60 440.0 720.0)" />
<ellipse class="wk" cx="622.0" cy="522.0" rx="203.0" ry="116.0" transform="rotate(-60 622.0 522.0)" />
<ellipse class="l" cx="625.0" cy="523.0" rx="182.0" ry="101.0" transform="rotate(-60 625.0 523.0)" />
<ellipse class="k" cx="628.0" cy="524.0" rx="160.0" ry="88.0" transform="rotate(-60 628.0 524.0)" />
<ellipse class="k" style="stroke-width:2" cx="634.0" cy="527.0" rx="138.0" ry="74.0" transform="rotate(-60 634.0 527.0)" />
<ellipse class="wk" cx="640.0" cy="530.0" rx="112.0" ry="58.0" transform="rotate(-60 640.0 530.0)" />
<path class="k" d="M545,718 Q580,705 605,688"/>
<path class="t" d="M452,716 L632,822"/>
<ellipse class="wk" style="stroke-width:2" cx="685.0" cy="850.0" rx="75.0" ry="46.0" transform="rotate(-60 685.0 850.0)" />
<ellipse class="l" cx="690.0" cy="853.0" rx="30.0" ry="18.0" transform="rotate(-60 690.0 853.0)" />
<ellipse class="wk" style="stroke-width:1.8" cx="784.0" cy="920.0" rx="56.0" ry="35.0" transform="rotate(-60 784.0 920.0)" />
<ellipse class="l" cx="787.0" cy="922.0" rx="22.0" ry="13.0" transform="rotate(-60 787.0 922.0)" />
<path class="wk" d="M848,940 L905,975 L890,1010 L835,978 Z"/>
<path class="l" d="M858,946 L845,984 M870,953 L857,990 M882,960 L869,998 M894,968 L881,1004"/>
<path class="wk" d="M905,972 L940,962 L975,985 L980,1030 L950,1058 L915,1040 L898,1005 Z"/>
<path class="l" d="M940,962 L925,1000 L898,1005 M925,1000 L950,1058"/>
</g>
<!-- 08_right.py -->
<g transform="translate(1040,610) scale(0.111111)">
<path class="k" d="M612,-340 V185"/>
<path class="l" d="M478,250 Q420,208 365,222 Q270,270 228,390 Q205,480 240,540 Q262,572 300,582"/>
<path class="wk" d="M470,247 Q540,195 610,190 L690,185 Q735,195 738,230 L742,345 L700,800 L600,825 L500,832 Q430,835 375,795 Q315,740 305,650 Q300,520 370,370 Q420,290 470,247 Z"/>
<path class="l" d="M512,238 Q440,300 400,380 Q345,520 345,640 Q355,745 440,810"/>
<ellipse class="l" cx="665.0" cy="270.0" rx="34.0" ry="19.0" transform="rotate(-60 665.0 270.0)" />
<ellipse class="l" cx="480.0" cy="382.0" rx="36.0" ry="20.0" transform="rotate(-60 480.0 382.0)" />
<ellipse class="l" cx="378.0" cy="630.0" rx="36.0" ry="20.0" transform="rotate(-60 378.0 630.0)" />
<ellipse class="l" cx="576.0" cy="296.0" rx="16.0" ry="10.0" transform="rotate(-60 576.0 296.0)" />
<ellipse class="w" cx="590.0" cy="520.0" rx="248.0" ry="143.0" transform="rotate(-60 590.0 520.0)" />
<path class="t" d="M463.3,714.5 L457.0,706.9 L451.4,698.4 L446.5,689.0 L442.3,678.9 L438.9,668.0 L436.3,656.4 L434.5,644.2 L433.5,631.4 L433.3,618.1 L433.9,604.3 L435.4,590.1 L437.6,575.6 L440.6,560.9 L444.4,546.0 L449.0,531.0 L454.3,516.0 L460.3,501.0 L466.9,486.1 L474.3,471.4 L482.2,457.0 L490.7,442.9 L499.8,429.2 L509.3,416.0 L519.3,403.3 L529.7,391.2 L540.4,379.7 L551.4,369.0 L562.6,359.0 L574.1,349.9 L585.6,341.5 L597.2,334.1 L608.9,327.6 L620.5,322.1 L632.0,317.5 L643.3,314.0 L654.4,311.5 L665.3,310.0 L675.8,309.6 L686.0,310.2 L695.8,311.9" />
<ellipse class="w" cx="640.0" cy="550.0" rx="225.0" ry="130.0" transform="rotate(-60 640.0 550.0)" />
<path d="M752.5,355.1 L877.5,430.1 L652.5,819.9 L527.5,744.9 Z" fill="#fff" stroke="none"/>
<path class="l" d="M752.5,355.1 L877.5,430.1" />
<path class="l" d="M652.5,819.9 L527.5,744.9" />
<ellipse class="w l" cx="765.0" cy="625.0" rx="225.0" ry="130.0" transform="rotate(-60 765.0 625.0)" />
<ellipse class="k" cx="765.0" cy="625.0" rx="225.0" ry="130.0" transform="rotate(-60 765.0 625.0)" />
<ellipse class="l" cx="772.0" cy="629.0" rx="200.0" ry="112.0" transform="rotate(-60 772.0 629.0)" />
<path class="k" style="stroke-width:2.6" d="M752,480 Q745,540 715,600"/>
<path class="l" d="M735,470 Q700,540 640,640 M715,600 L690,640 L650,660 L712,650 L762,718 L690,762 L640,725"/>
<ellipse class="l" cx="770.0" cy="625.0" rx="20.0" ry="15.0" transform="rotate(-60 770.0 625.0)" />
<ellipse class="b" cx="772.0" cy="626.0" rx="10.0" ry="8.0" transform="rotate(-60 772.0 626.0)" />
<path class="wk" d="M462,738 Q440,775 455,800 Q470,825 500,832"/>
<path class="l" d="M470,735 L600,825 V1165 L735,1240"/>
</g>
<g transform="translate(1100.8,660.2) scale(0.111111)"><!-- part 5 housing -->
<path class="wk" d="M392,290 L700,125 Q790,88 870,125 L950,172 Q975,185 975,215 L975,480 L555,832 L510,812 L510,775 L440,758 L392,725 Z"/>
<path class="l" d="M392,290 L550,365 L550,830 M550,365 L850,193 Q900,170 965,188 M560,380 L855,207 Q900,186 962,200"/>
<path class="l" d="M440,312 L440,758 M440,318 Q480,318 505,335 L520,420 L520,770 M500,335 L505,700"/>
<path class="t" d="M445,372 Q480,368 505,385 M445,690 Q480,682 515,700 M445,705 Q480,697 515,715 M425,480 L425,580"/>
<clipPath id="c26"><ellipse cx="762" cy="470" rx="230" ry="130" transform="rotate(-60 762 470)"/></clipPath>
<ellipse class="wk" cx="762" cy="470" rx="230" ry="130" transform="rotate(-60 762 470)"/>
<g clip-path="url(#c26)"><ellipse class="l" cx="610" cy="392" rx="230" ry="130" transform="rotate(-60 610 392)"/></g>
<circle class="b" cx="632" cy="362" r="11"/><circle class="b" cx="607" cy="447" r="11"/>
</g>
<path class="l" d="M1212.5,697.8 H1247.5 M1161,588 H1247.5 M1166,650.6 H1247.5 M1159.4,774 V807"/>
<g transform="translate(1100,520) scale(0.111111)">
<path class="wk" d="M430,270 V875 Q440,885 452,887 L465,1005 Q490,1022 515,1005 L528,887 Q540,883 545,875 V270 Z"/>
<path class="k" style="stroke-width:2" d="M430,280 V875"/>
<path class="l" d="M452,887 H528 M454,905 H526 M456,925 H524 M458,945 H522 M460,965 H520 M463,985 H517"/>
<path class="wk" d="M340,210 L570,60 Q615,115 705,130 L715,172 L490,297 L440,290 Z"/>
<path class="l" d="M362,200 L470,262 L700,140 M470,262 L490,297"/>
<ellipse class="w" cx="487" cy="195" rx="50" ry="30"/><path d="M437,172 V195 M537,172 V195" class="l"/><ellipse class="w" cx="487" cy="172" rx="50" ry="30"/>
<ellipse class="l" cx="592" cy="142" rx="22" ry="13"/>
</g>
<g transform="translate(1040,610) scale(0.111111)">
<path class="wk" d="M935,330 L975,290 L1060,280 L1110,320 L1110,385 L1075,420 L985,425 L940,385 Z"/>
<path class="l" d="M935,330 L985,365 L1075,360 L1110,320 M985,365 V425 M1075,360 V420"/>
<ellipse class="l" cx="1025" cy="322" rx="58" ry="27"/><ellipse class="l" cx="1025" cy="326" rx="38" ry="14"/>
</g>
<g transform="translate(1090,730) scale(0.111111)">
<circle cx="335" cy="195" r="44" fill="#222"/><path d="M310,185 L350,165 M320,215 L365,195 M335,160 V230" stroke="#fff" stroke-width="7" fill="none"/>
<ellipse class="wk" style="stroke-width:1.9" cx="443.0" cy="255.0" rx="60.0" ry="36.0" transform="rotate(-60 443.0 255.0)" />
<ellipse class="l" cx="446.0" cy="257.0" rx="22.0" ry="12.0" transform="rotate(-60 446.0 257.0)" />
<path class="wk" d="M520,282 L745,400 L725,440 L505,318 Z"/>
<path class="k" d="M535,288 L520,326 M550,296 L535,334 M565,304 L550,342 M580,312 L565,350 M595,320 L580,358 M610,328 L595,366"/>
<ellipse class="wk" cx="760.0" cy="430.0" rx="52.0" ry="34.0" transform="rotate(-60 760.0 430.0)" />
<ellipse class="l" cx="760.0" cy="432.0" rx="20.0" ry="12.0" transform="rotate(-60 760.0 432.0)" />
</g>
<path class="l" d="M638.5,736.3 H697 M634.7,754 L643.5,764.8 H697"/>
<path class="t" d="M635.9,701 L633.4,732.5"/>
<path class="wk" d="M629,733.5 L632,731.5 L636.5,732.5 L637.5,737 L634.5,740 L630,739 Z"/><ellipse class="l" cx="633.2" cy="735" rx="2.6" ry="1.5"/>
<path class="wk" d="M629.6,744.5 H633.8 V752 H629.6 Z"/><path class="l" d="M629.6,746.2 H633.8 M629.6,748 H633.8 M629.6,749.8 H633.8"/><path class="wk" d="M627.6,752 L635.6,752 L636.2,756 L632,758 L627.2,756 Z"/>

<!-- labels -->
<circle cx="185.6" cy="148.8" r="12.2" class="lc"/>
<text transform="translate(185.6,148.8) scale(1,1.12)" x="0" y="5.76" class="lt">4</text>
<circle cx="185.6" cy="180.2" r="12.2" class="lc"/>
<text transform="translate(185.6,180.2) scale(1,1.12)" x="0" y="5.76" class="lt">3</text>
<circle cx="352.9" cy="180.4" r="12.2" class="lc"/>
<text transform="translate(352.9,180.4) scale(1,1.12)" x="0" y="5.76" class="lt">7</text>
<circle cx="380.8" cy="180.4" r="12.2" class="lc"/>
<text transform="translate(380.8,180.4) scale(1,1.12)" x="0" y="5.76" class="lt">6</text>
<circle cx="409" cy="180.4" r="12.2" class="lc"/>
<text transform="translate(409,180.4) scale(1,1.12)" x="0" y="5.76" class="lt">8</text>
<circle cx="290" cy="297.6" r="12.2" class="lc"/>
<text transform="translate(290,297.6) scale(1,1.12)" x="0" y="5.76" class="lt">5</text>
<circle cx="479.6" cy="239" r="12.2" class="lc"/>
<text transform="translate(479.6,239) scale(1,1.12)" x="0" y="5.76" class="lt">9</text>
<circle cx="530.1" cy="239" r="12.2" class="lc"/>
<text transform="translate(530.1,239) scale(1,1.12)" x="0" y="5.76" class="lt">10</text>
<circle cx="638" cy="326.1" r="12.2" class="lc"/>
<text transform="translate(638,326.1) scale(1,1.12)" x="0" y="5.76" class="lt">11</text>
<circle cx="678.4" cy="326.1" r="12.2" class="lc"/>
<text transform="translate(678.4,326.1) scale(1,1.12)" x="0" y="5.76" class="lt">10</text>
<circle cx="749.8" cy="306.2" r="12.2" class="lc"/>
<text transform="translate(749.8,306.2) scale(1,1.12)" x="0" y="5.76" class="lt">31</text>
<circle cx="778.2" cy="306.2" r="12.2" class="lc"/>
<text transform="translate(778.2,306.2) scale(1,1.12)" x="0" y="5.76" class="lt">32</text>
<circle cx="805.8" cy="306.2" r="12.2" class="lc"/>
<text transform="translate(805.8,306.2) scale(1,1.12)" x="0" y="5.76" class="lt">33</text>
<circle cx="879.4" cy="398.9" r="12.2" class="lc"/>
<text transform="translate(879.4,398.9) scale(1,1.12)" x="0" y="5.76" class="lt">34</text>
<circle cx="879.4" cy="425.6" r="12.2" class="lc"/>
<text transform="translate(879.4,425.6) scale(1,1.12)" x="0" y="5.76" class="lt">35</text>
<circle cx="879.4" cy="452.4" r="12.2" class="lc"/>
<text transform="translate(879.4,452.4) scale(1,1.12)" x="0" y="5.76" class="lt">36</text>
<circle cx="381.4" cy="402.4" r="12.2" class="lc"/>
<text transform="translate(381.4,402.4) scale(1,1.12)" x="0" y="5.76" class="lt">19</text>
<circle cx="408.6" cy="402.4" r="12.2" class="lc"/>
<text transform="translate(408.6,402.4) scale(1,1.12)" x="0" y="5.76" class="lt">20</text>
<circle cx="436.1" cy="402.4" r="12.2" class="lc"/>
<text transform="translate(436.1,402.4) scale(1,1.12)" x="0" y="5.76" class="lt">21</text>
<circle cx="463.3" cy="402.4" r="12.2" class="lc"/>
<text transform="translate(463.3,402.4) scale(1,1.12)" x="0" y="5.76" class="lt">22</text>
<circle cx="507.6" cy="402.4" r="12.2" class="lc"/>
<text transform="translate(507.6,402.4) scale(1,1.12)" x="0" y="5.76" class="lt">23</text>
<circle cx="240.8" cy="549.3" r="12.2" class="lc"/>
<text transform="translate(240.8,549.3) scale(1,1.12)" x="0" y="5.76" class="lt">14</text>
<circle cx="141.2" cy="615.3" r="12.2" class="lc"/>
<text transform="translate(141.2,615.3) scale(1,1.12)" x="0" y="5.76" class="lt">15</text>
<circle cx="289" cy="700" r="12.2" class="lc"/>
<text transform="translate(289,700) scale(1,1.12)" x="0" y="5.76" class="lt">17</text>
<circle cx="337.9" cy="773.8" r="12.2" class="lc"/>
<text transform="translate(337.9,773.8) scale(1,1.12)" x="0" y="5.76" class="lt">12</text>
<circle cx="415.8" cy="619.4" r="12.2" class="lc"/>
<text transform="translate(415.8,619.4) scale(1,1.12)" x="0" y="5.76" class="lt">14</text>
<circle cx="436.7" cy="786.3" r="12.2" class="lc"/>
<text transform="translate(436.7,786.3) scale(1,1.12)" x="0" y="5.76" class="lt">17</text>
<circle cx="540.1" cy="721.7" r="12.2" class="lc"/>
<text transform="translate(540.1,721.7) scale(1,1.12)" x="0" y="5.76" class="lt">14</text>
<circle cx="556.4" cy="855.3" r="12.2" class="lc"/>
<text transform="translate(556.4,855.3) scale(1,1.12)" x="0" y="5.76" class="lt">15</text>
<circle cx="709" cy="736.3" r="12.2" class="lc"/>
<text transform="translate(709,736.3) scale(1,1.12)" x="0" y="5.76" class="lt">13</text>
<circle cx="709" cy="765" r="12.2" class="lc"/>
<text transform="translate(709,765) scale(1,1.12)" x="0" y="5.76" class="lt">16</text>
<circle cx="712.4" cy="682.2" r="12.2" class="lc"/>
<text transform="translate(712.4,682.2) scale(1,1.12)" x="0" y="5.76" class="lt">19</text>
<circle cx="747.4" cy="682.2" r="12.2" class="lc"/>
<text transform="translate(747.4,682.2) scale(1,1.12)" x="0" y="5.76" class="lt">20</text>
<circle cx="782.8" cy="682.2" r="12.2" class="lc"/>
<text transform="translate(782.8,682.2) scale(1,1.12)" x="0" y="5.76" class="lt">21</text>
<circle cx="818.2" cy="682.2" r="12.2" class="lc"/>
<text transform="translate(818.2,682.2) scale(1,1.12)" x="0" y="5.76" class="lt">22</text>
<circle cx="848.8" cy="682.2" r="12.2" class="lc"/>
<text transform="translate(848.8,682.2) scale(1,1.12)" x="0" y="5.76" class="lt">23</text>
<circle cx="798.6" cy="566.1" r="12.2" class="lc"/>
<text transform="translate(798.6,566.1) scale(1,1.12)" x="0" y="5.76" class="lt">10</text>
<circle cx="933.7" cy="497.5" r="12.2" class="lc"/>
<text transform="translate(933.7,497.5) scale(1,1.12)" x="0" y="5.76" class="lt">11</text>
<circle cx="974.1" cy="497.5" r="12.2" class="lc"/>
<text transform="translate(974.1,497.5) scale(1,1.12)" x="0" y="5.76" class="lt">10</text>
<circle cx="1108.4" cy="560" r="12.2" class="lc"/>
<text transform="translate(1108.4,560) scale(1,1.12)" x="0" y="5.76" class="lt">8</text>
<circle cx="1259.4" cy="588.1" r="12.2" class="lc"/>
<text transform="translate(1259.4,588.1) scale(1,1.12)" x="0" y="5.76" class="lt">29</text>
<circle cx="1259.4" cy="650.6" r="12.2" class="lc"/>
<text transform="translate(1259.4,650.6) scale(1,1.12)" x="0" y="5.76" class="lt">30</text>
<circle cx="1259.4" cy="697.8" r="12.2" class="lc"/>
<text transform="translate(1259.4,697.8) scale(1,1.12)" x="0" y="5.76" class="lt">26</text>
<circle cx="1159.4" cy="819.4" r="12.2" class="lc"/>
<text transform="translate(1159.4,819.4) scale(1,1.12)" x="0" y="5.76" class="lt">25</text>
</svg>
</body></html>
